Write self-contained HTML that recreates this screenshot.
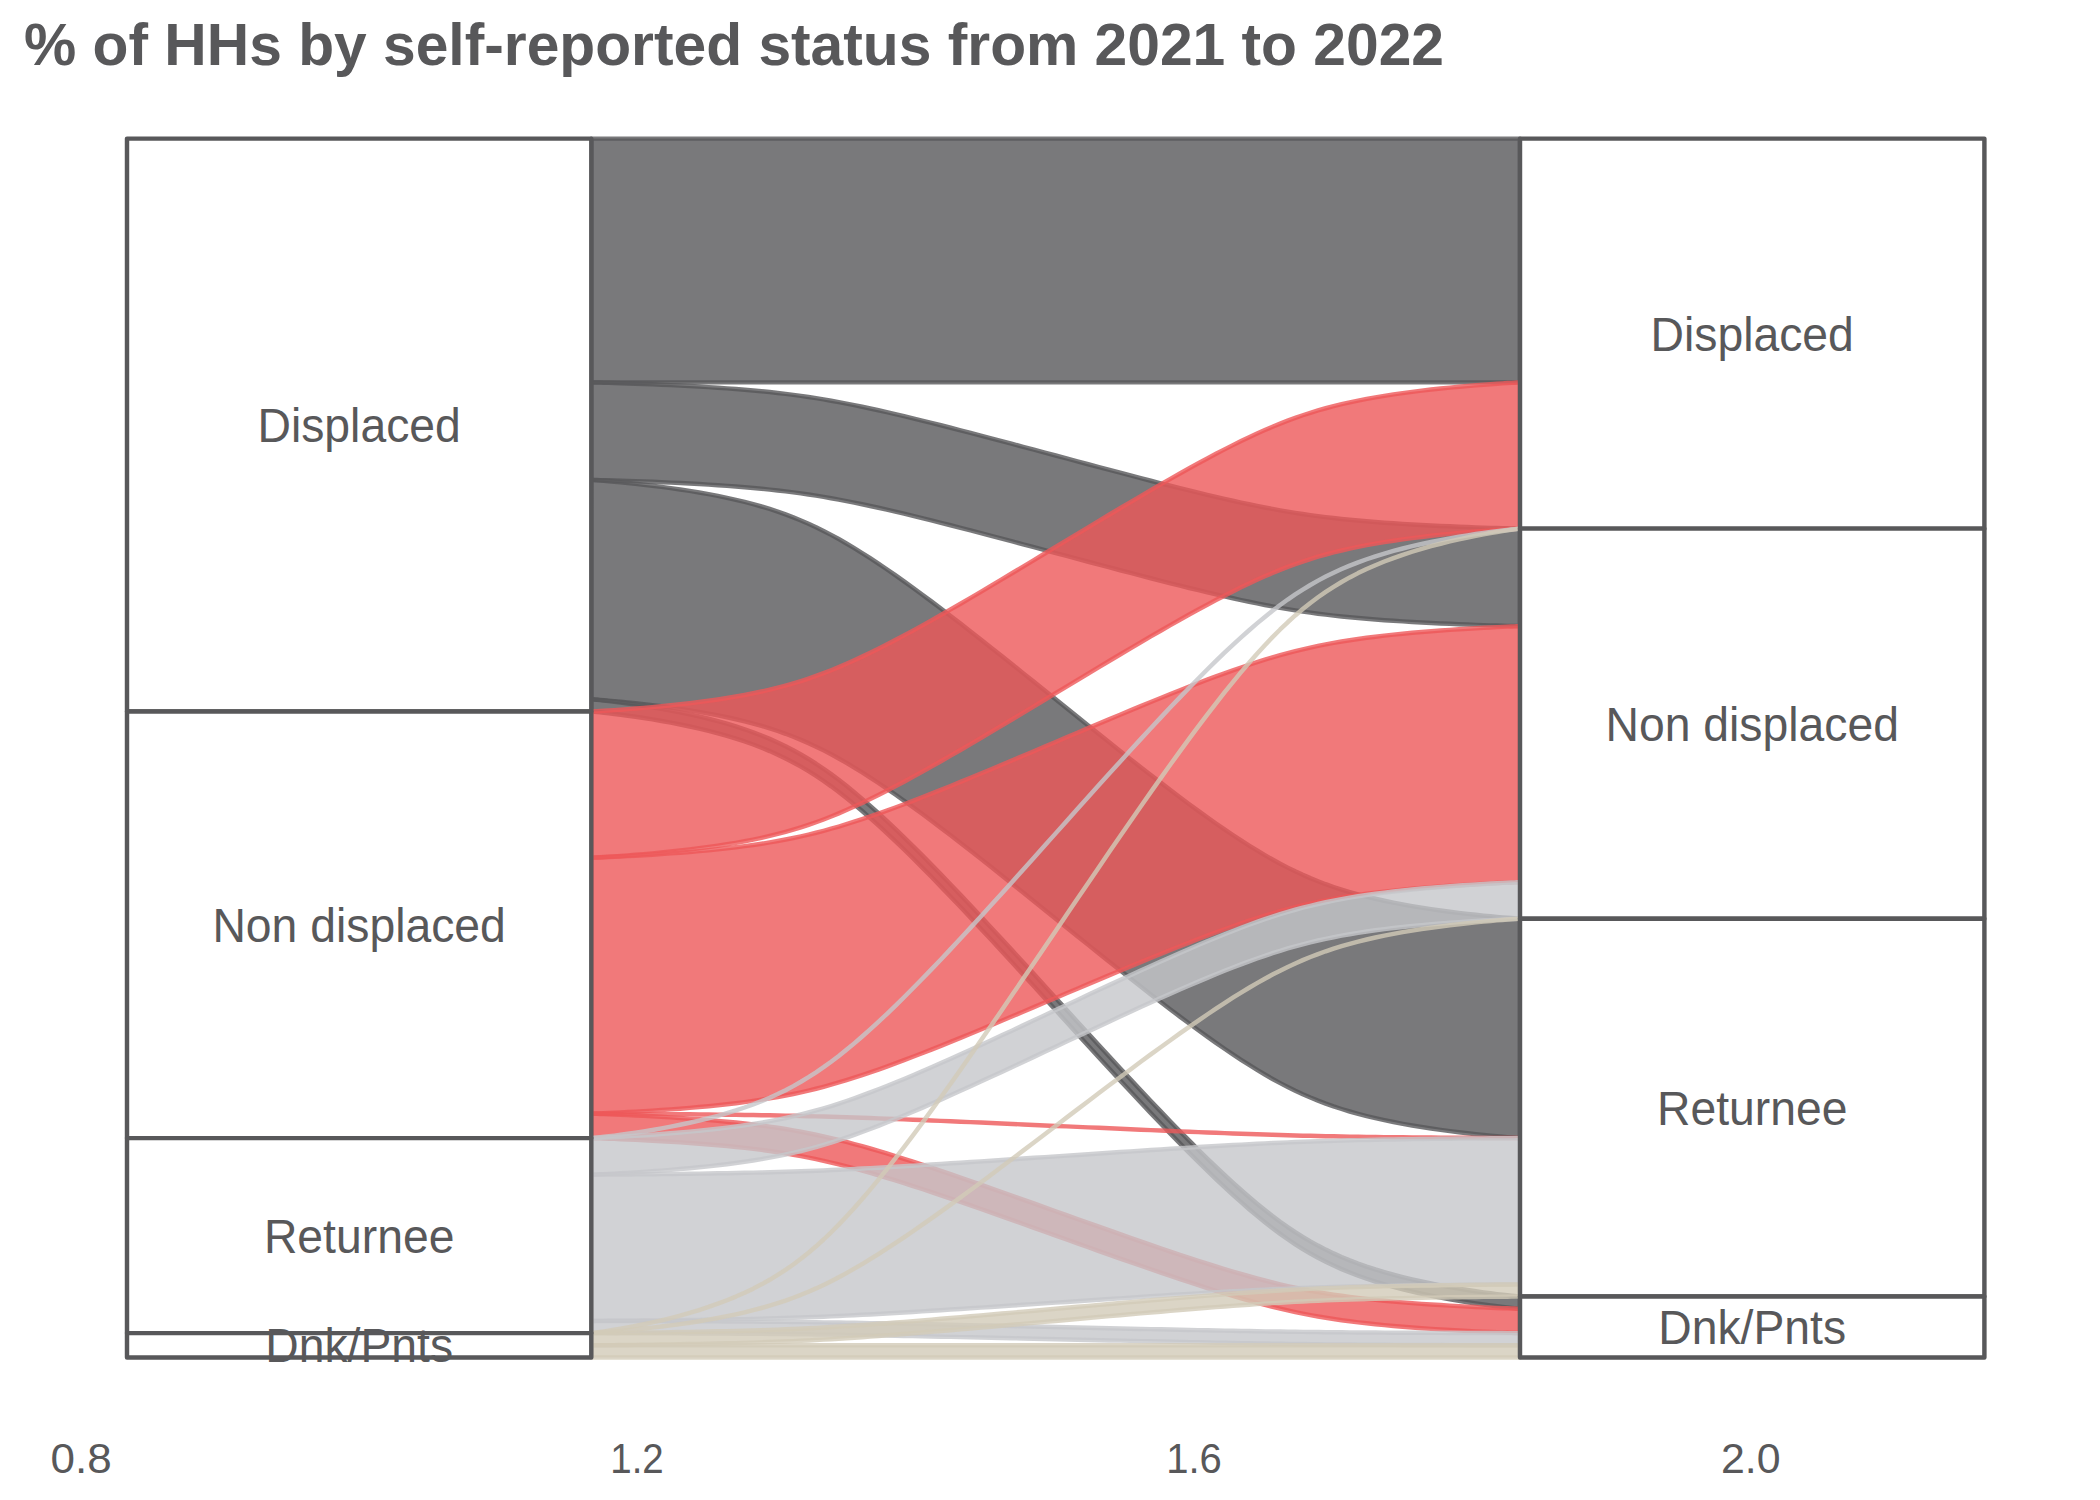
<!DOCTYPE html>
<html><head><meta charset="utf-8"><title>Alluvial</title>
<style>html,body{margin:0;padding:0;background:#fff;width:2100px;height:1500px;overflow:hidden}</style>
</head><body>
<svg width="2100" height="1500" viewBox="0 0 2100 1500" style="display:block">
<rect width="2100" height="1500" fill="#fff"/>
<text x="24" y="65" font-family="Liberation Sans, sans-serif" font-weight="bold" font-size="60" fill="#58585A" textLength="1420" lengthAdjust="spacingAndGlyphs">% of HHs by self-reported status from 2021 to 2022</text>
<g>
<path d="M591.3 138.6 L591.33 138.6 L591.54 138.6 L592.09 138.6 L593.11 138.6 L594.73 138.6 L597.05 138.6 L600.14 138.6 L604.04 138.6 L608.77 138.6 L614.33 138.6 L620.67 138.6 L627.73 138.6 L635.44 138.6 L643.69 138.6 L652.4 138.6 L661.45 138.6 L670.74 138.6 L680.17 138.6 L689.67 138.6 L699.15 138.6 L708.56 138.6 L717.84 138.6 L726.96 138.6 L735.9 138.6 L744.65 138.6 L753.19 138.6 L761.54 138.6 L769.71 138.6 L777.71 138.6 L785.56 138.6 L793.29 138.6 L800.93 138.6 L808.51 138.6 L816.05 138.6 L823.58 138.6 L831.14 138.6 L838.76 138.6 L846.45 138.6 L854.25 138.6 L862.17 138.6 L870.22 138.6 L878.42 138.6 L886.78 138.6 L895.31 138.6 L904.04 138.6 L912.95 138.6 L922.07 138.6 L931.39 138.6 L940.9 138.6 L950.61 138.6 L960.51 138.6 L970.58 138.6 L980.82 138.6 L991.21 138.6 L1001.74 138.6 L1012.38 138.6 L1023.11 138.6 L1033.92 138.6 L1044.77 138.6 L1055.65 138.6 L1066.53 138.6 L1077.38 138.6 L1088.19 138.6 L1098.92 138.6 L1109.56 138.6 L1120.09 138.6 L1130.48 138.6 L1140.72 138.6 L1150.79 138.6 L1160.69 138.6 L1170.4 138.6 L1179.91 138.6 L1189.23 138.6 L1198.35 138.6 L1207.26 138.6 L1215.99 138.6 L1224.52 138.6 L1232.88 138.6 L1241.08 138.6 L1249.13 138.6 L1257.05 138.6 L1264.85 138.6 L1272.54 138.6 L1280.16 138.6 L1287.72 138.6 L1295.25 138.6 L1302.79 138.6 L1310.37 138.6 L1318.01 138.6 L1325.74 138.6 L1333.59 138.6 L1341.59 138.6 L1349.76 138.6 L1358.11 138.6 L1366.65 138.6 L1375.4 138.6 L1384.34 138.6 L1393.46 138.6 L1402.74 138.6 L1412.15 138.6 L1421.63 138.6 L1431.13 138.6 L1440.56 138.6 L1449.85 138.6 L1458.9 138.6 L1467.61 138.6 L1475.86 138.6 L1483.57 138.6 L1490.63 138.6 L1496.97 138.6 L1502.53 138.6 L1507.26 138.6 L1511.16 138.6 L1514.25 138.6 L1516.57 138.6 L1518.19 138.6 L1519.21 138.6 L1519.76 138.6 L1519.97 138.6 L1520 138.6 L1520 382.38 L1519.97 382.38 L1519.76 382.38 L1519.21 382.38 L1518.19 382.38 L1516.57 382.38 L1514.25 382.38 L1511.16 382.38 L1507.26 382.38 L1502.53 382.38 L1496.97 382.38 L1490.63 382.38 L1483.57 382.38 L1475.86 382.38 L1467.61 382.38 L1458.9 382.38 L1449.85 382.38 L1440.56 382.38 L1431.13 382.38 L1421.63 382.38 L1412.15 382.38 L1402.74 382.38 L1393.46 382.38 L1384.34 382.38 L1375.4 382.38 L1366.65 382.38 L1358.11 382.38 L1349.76 382.38 L1341.59 382.38 L1333.59 382.38 L1325.74 382.38 L1318.01 382.38 L1310.37 382.38 L1302.79 382.38 L1295.25 382.38 L1287.72 382.38 L1280.16 382.38 L1272.54 382.38 L1264.85 382.38 L1257.05 382.38 L1249.13 382.38 L1241.08 382.38 L1232.88 382.38 L1224.52 382.38 L1215.99 382.38 L1207.26 382.38 L1198.35 382.38 L1189.23 382.38 L1179.91 382.38 L1170.4 382.38 L1160.69 382.38 L1150.79 382.38 L1140.72 382.38 L1130.48 382.38 L1120.09 382.38 L1109.56 382.38 L1098.92 382.38 L1088.19 382.38 L1077.38 382.38 L1066.53 382.38 L1055.65 382.38 L1044.77 382.38 L1033.92 382.38 L1023.11 382.38 L1012.38 382.38 L1001.74 382.38 L991.21 382.38 L980.82 382.38 L970.58 382.38 L960.51 382.38 L950.61 382.38 L940.9 382.38 L931.39 382.38 L922.07 382.38 L912.95 382.38 L904.04 382.38 L895.31 382.38 L886.78 382.38 L878.42 382.38 L870.22 382.38 L862.17 382.38 L854.25 382.38 L846.45 382.38 L838.76 382.38 L831.14 382.38 L823.58 382.38 L816.05 382.38 L808.51 382.38 L800.93 382.38 L793.29 382.38 L785.56 382.38 L777.71 382.38 L769.71 382.38 L761.54 382.38 L753.19 382.38 L744.65 382.38 L735.9 382.38 L726.96 382.38 L717.84 382.38 L708.56 382.38 L699.15 382.38 L689.67 382.38 L680.17 382.38 L670.74 382.38 L661.45 382.38 L652.4 382.38 L643.69 382.38 L635.44 382.38 L627.73 382.38 L620.67 382.38 L614.33 382.38 L608.77 382.38 L604.04 382.38 L600.14 382.38 L597.05 382.38 L594.73 382.38 L593.11 382.38 L592.09 382.38 L591.54 382.38 L591.33 382.38 L591.3 382.38Z" fill="#58585A" fill-opacity="0.8" stroke="#58585A" stroke-opacity="0.8" stroke-width="4.44" stroke-linejoin="round"/>
<path d="M591.3 382.38 L591.33 382.38 L591.54 382.38 L592.09 382.4 L593.11 382.42 L594.73 382.45 L597.05 382.51 L600.14 382.59 L604.04 382.69 L608.77 382.82 L614.33 382.98 L620.67 383.18 L627.73 383.41 L635.44 383.68 L643.69 383.99 L652.4 384.33 L661.45 384.71 L670.74 385.12 L680.17 385.57 L689.67 386.06 L699.15 386.58 L708.56 387.14 L717.84 387.73 L726.96 388.36 L735.9 389.02 L744.65 389.72 L753.19 390.47 L761.54 391.25 L769.71 392.08 L777.71 392.95 L785.56 393.88 L793.29 394.86 L800.93 395.9 L808.51 397 L816.05 398.17 L823.58 399.4 L831.14 400.71 L838.76 402.1 L846.45 403.57 L854.25 405.12 L862.17 406.76 L870.22 408.47 L878.42 410.28 L886.78 412.16 L895.31 414.13 L904.04 416.19 L912.95 418.33 L922.07 420.56 L931.39 422.87 L940.9 425.26 L950.61 427.74 L960.51 430.28 L970.58 432.89 L980.82 435.57 L991.21 438.31 L1001.74 441.1 L1012.38 443.93 L1023.11 446.79 L1033.92 449.68 L1044.77 452.59 L1055.65 455.51 L1066.53 458.43 L1077.38 461.34 L1088.19 464.24 L1098.92 467.1 L1109.56 469.93 L1120.09 472.72 L1130.48 475.46 L1140.72 478.13 L1150.79 480.75 L1160.69 483.29 L1170.4 485.76 L1179.91 488.16 L1189.23 490.47 L1198.35 492.7 L1207.26 494.84 L1215.99 496.9 L1224.52 498.87 L1232.88 500.75 L1241.08 502.55 L1249.13 504.27 L1257.05 505.9 L1264.85 507.46 L1272.54 508.93 L1280.16 510.32 L1287.72 511.63 L1295.25 512.86 L1302.79 514.03 L1310.37 515.13 L1318.01 516.17 L1325.74 517.15 L1333.59 518.07 L1341.59 518.95 L1349.76 519.78 L1358.11 520.56 L1366.65 521.3 L1375.4 522.01 L1384.34 522.67 L1393.46 523.3 L1402.74 523.89 L1412.15 524.45 L1421.63 524.97 L1431.13 525.46 L1440.56 525.91 L1449.85 526.32 L1458.9 526.7 L1467.61 527.04 L1475.86 527.35 L1483.57 527.62 L1490.63 527.85 L1496.97 528.04 L1502.53 528.21 L1507.26 528.34 L1511.16 528.44 L1514.25 528.52 L1516.57 528.57 L1518.19 528.61 L1519.21 528.63 L1519.76 528.64 L1519.97 528.65 L1520 528.65 L1520 626.16 L1519.97 626.16 L1519.76 626.16 L1519.21 626.14 L1518.19 626.12 L1516.57 626.09 L1514.25 626.03 L1511.16 625.95 L1507.26 625.85 L1502.53 625.72 L1496.97 625.56 L1490.63 625.36 L1483.57 625.13 L1475.86 624.86 L1467.61 624.55 L1458.9 624.21 L1449.85 623.83 L1440.56 623.42 L1431.13 622.97 L1421.63 622.48 L1412.15 621.96 L1402.74 621.4 L1393.46 620.81 L1384.34 620.18 L1375.4 619.52 L1366.65 618.82 L1358.11 618.07 L1349.76 617.29 L1341.59 616.46 L1333.59 615.59 L1325.74 614.66 L1318.01 613.68 L1310.37 612.64 L1302.79 611.54 L1295.25 610.37 L1287.72 609.14 L1280.16 607.83 L1272.54 606.44 L1264.85 604.97 L1257.05 603.42 L1249.13 601.78 L1241.08 600.07 L1232.88 598.26 L1224.52 596.38 L1215.99 594.41 L1207.26 592.35 L1198.35 590.21 L1189.23 587.98 L1179.91 585.67 L1170.4 583.28 L1160.69 580.8 L1150.79 578.26 L1140.72 575.65 L1130.48 572.97 L1120.09 570.23 L1109.56 567.44 L1098.92 564.61 L1088.19 561.75 L1077.38 558.86 L1066.53 555.95 L1055.65 553.03 L1044.77 550.11 L1033.92 547.2 L1023.11 544.3 L1012.38 541.44 L1001.74 538.61 L991.21 535.82 L980.82 533.08 L970.58 530.41 L960.51 527.79 L950.61 525.25 L940.9 522.78 L931.39 520.38 L922.07 518.07 L912.95 515.84 L904.04 513.7 L895.31 511.64 L886.78 509.67 L878.42 507.79 L870.22 505.99 L862.17 504.27 L854.25 502.64 L846.45 501.08 L838.76 499.61 L831.14 498.22 L823.58 496.91 L816.05 495.68 L808.51 494.51 L800.93 493.41 L793.29 492.37 L785.56 491.39 L777.71 490.47 L769.71 489.59 L761.54 488.76 L753.19 487.98 L744.65 487.24 L735.9 486.53 L726.96 485.87 L717.84 485.24 L708.56 484.65 L699.15 484.09 L689.67 483.57 L680.17 483.08 L670.74 482.63 L661.45 482.22 L652.4 481.84 L643.69 481.5 L635.44 481.19 L627.73 480.92 L620.67 480.69 L614.33 480.5 L608.77 480.33 L604.04 480.2 L600.14 480.1 L597.05 480.02 L594.73 479.97 L593.11 479.93 L592.09 479.91 L591.54 479.9 L591.33 479.89 L591.3 479.89Z" fill="#58585A" fill-opacity="0.8" stroke="#58585A" stroke-opacity="0.8" stroke-width="4.44" stroke-linejoin="round"/>
<path d="M591.3 479.89 L591.33 479.89 L591.54 479.91 L592.09 479.94 L593.11 480.01 L594.73 480.12 L597.05 480.28 L600.14 480.51 L604.04 480.82 L608.77 481.22 L614.33 481.7 L620.67 482.29 L627.73 482.99 L635.44 483.79 L643.69 484.71 L652.4 485.73 L661.45 486.87 L670.74 488.12 L680.17 489.47 L689.67 490.93 L699.15 492.49 L708.56 494.16 L717.84 495.94 L726.96 497.82 L735.9 499.82 L744.65 501.92 L753.19 504.15 L761.54 506.5 L769.71 508.99 L777.71 511.61 L785.56 514.39 L793.29 517.33 L800.93 520.45 L808.51 523.75 L816.05 527.25 L823.58 530.96 L831.14 534.89 L838.76 539.06 L846.45 543.46 L854.25 548.12 L862.17 553.03 L870.22 558.18 L878.42 563.58 L886.78 569.23 L895.31 575.15 L904.04 581.32 L912.95 587.75 L922.07 594.43 L931.39 601.37 L940.9 608.55 L950.61 615.96 L960.51 623.59 L970.58 631.44 L980.82 639.47 L991.21 647.68 L1001.74 656.04 L1012.38 664.53 L1023.11 673.12 L1033.92 681.8 L1044.77 690.53 L1055.65 699.29 L1066.53 708.05 L1077.38 716.79 L1088.19 725.46 L1098.92 734.06 L1109.56 742.55 L1120.09 750.91 L1130.48 759.12 L1140.72 767.15 L1150.79 775 L1160.69 782.63 L1170.4 790.04 L1179.91 797.22 L1189.23 804.16 L1198.35 810.84 L1207.26 817.27 L1215.99 823.44 L1224.52 829.36 L1232.88 835.01 L1241.08 840.41 L1249.13 845.56 L1257.05 850.47 L1264.85 855.12 L1272.54 859.53 L1280.16 863.7 L1287.72 867.63 L1295.25 871.34 L1302.79 874.84 L1310.37 878.14 L1318.01 881.25 L1325.74 884.2 L1333.59 886.97 L1341.59 889.6 L1349.76 892.09 L1358.11 894.44 L1366.65 896.66 L1375.4 898.77 L1384.34 900.77 L1393.46 902.65 L1402.74 904.42 L1412.15 906.1 L1421.63 907.66 L1431.13 909.12 L1440.56 910.47 L1449.85 911.72 L1458.9 912.85 L1467.61 913.88 L1475.86 914.79 L1483.57 915.6 L1490.63 916.29 L1496.97 916.88 L1502.53 917.37 L1507.26 917.77 L1511.16 918.08 L1514.25 918.31 L1516.57 918.47 L1518.19 918.58 L1519.21 918.65 L1519.76 918.68 L1519.97 918.69 L1520 918.7 L1520 1138.1 L1519.97 1138.1 L1519.76 1138.08 L1519.21 1138.05 L1518.19 1137.98 L1516.57 1137.87 L1514.25 1137.71 L1511.16 1137.48 L1507.26 1137.17 L1502.53 1136.77 L1496.97 1136.29 L1490.63 1135.7 L1483.57 1135 L1475.86 1134.2 L1467.61 1133.28 L1458.9 1132.26 L1449.85 1131.12 L1440.56 1129.87 L1431.13 1128.52 L1421.63 1127.06 L1412.15 1125.5 L1402.74 1123.83 L1393.46 1122.05 L1384.34 1120.17 L1375.4 1118.17 L1366.65 1116.07 L1358.11 1113.84 L1349.76 1111.49 L1341.59 1109 L1333.59 1106.38 L1325.74 1103.6 L1318.01 1100.66 L1310.37 1097.54 L1302.79 1094.24 L1295.25 1090.74 L1287.72 1087.03 L1280.16 1083.1 L1272.54 1078.93 L1264.85 1074.53 L1257.05 1069.87 L1249.13 1064.96 L1241.08 1059.81 L1232.88 1054.41 L1224.52 1048.76 L1215.99 1042.84 L1207.26 1036.67 L1198.35 1030.24 L1189.23 1023.56 L1179.91 1016.62 L1170.4 1009.44 L1160.69 1002.03 L1150.79 994.4 L1140.72 986.55 L1130.48 978.52 L1120.09 970.31 L1109.56 961.95 L1098.92 953.46 L1088.19 944.87 L1077.38 936.19 L1066.53 927.46 L1055.65 918.7 L1044.77 909.94 L1033.92 901.2 L1023.11 892.53 L1012.38 883.93 L1001.74 875.44 L991.21 867.08 L980.82 858.87 L970.58 850.84 L960.51 842.99 L950.61 835.36 L940.9 827.95 L931.39 820.77 L922.07 813.83 L912.95 807.15 L904.04 800.72 L895.31 794.55 L886.78 788.63 L878.42 782.98 L870.22 777.58 L862.17 772.43 L854.25 767.52 L846.45 762.87 L838.76 758.46 L831.14 754.29 L823.58 750.36 L816.05 746.65 L808.51 743.15 L800.93 739.85 L793.29 736.74 L785.56 733.79 L777.71 731.02 L769.71 728.39 L761.54 725.9 L753.19 723.55 L744.65 721.33 L735.9 719.22 L726.96 717.22 L717.84 715.34 L708.56 713.57 L699.15 711.89 L689.67 710.33 L680.17 708.87 L670.74 707.52 L661.45 706.27 L652.4 705.14 L643.69 704.11 L635.44 703.2 L627.73 702.39 L620.67 701.7 L614.33 701.11 L608.77 700.62 L604.04 700.22 L600.14 699.91 L597.05 699.68 L594.73 699.52 L593.11 699.41 L592.09 699.34 L591.54 699.31 L591.33 699.3 L591.3 699.29Z" fill="#58585A" fill-opacity="0.8" stroke="#58585A" stroke-opacity="0.8" stroke-width="4.44" stroke-linejoin="round"/>
<path d="M591.3 699.29 L591.33 699.3 L591.54 699.31 L592.09 699.36 L593.11 699.45 L594.73 699.6 L597.05 699.82 L600.14 700.14 L604.04 700.56 L608.77 701.1 L614.33 701.76 L620.67 702.56 L627.73 703.51 L635.44 704.6 L643.69 705.85 L652.4 707.25 L661.45 708.79 L670.74 710.49 L680.17 712.33 L689.67 714.31 L699.15 716.45 L708.56 718.72 L717.84 721.14 L726.96 723.7 L735.9 726.41 L744.65 729.28 L753.19 732.31 L761.54 735.51 L769.71 738.9 L777.71 742.47 L785.56 746.25 L793.29 750.26 L800.93 754.5 L808.51 758.99 L816.05 763.75 L823.58 768.8 L831.14 774.15 L838.76 779.82 L846.45 785.82 L854.25 792.16 L862.17 798.84 L870.22 805.85 L878.42 813.2 L886.78 820.9 L895.31 828.94 L904.04 837.34 L912.95 846.1 L922.07 855.19 L931.39 864.63 L940.9 874.41 L950.61 884.49 L960.51 894.89 L970.58 905.56 L980.82 916.5 L991.21 927.67 L1001.74 939.05 L1012.38 950.6 L1023.11 962.31 L1033.92 974.12 L1044.77 986 L1055.65 997.92 L1066.53 1009.85 L1077.38 1021.73 L1088.19 1033.54 L1098.92 1045.24 L1109.56 1056.8 L1120.09 1068.18 L1130.48 1079.35 L1140.72 1090.29 L1150.79 1100.96 L1160.69 1111.35 L1170.4 1121.44 L1179.91 1131.21 L1189.23 1140.65 L1198.35 1149.75 L1207.26 1158.5 L1215.99 1166.9 L1224.52 1174.95 L1232.88 1182.65 L1241.08 1190 L1249.13 1197.01 L1257.05 1203.69 L1264.85 1210.03 L1272.54 1216.03 L1280.16 1221.7 L1287.72 1227.05 L1295.25 1232.1 L1302.79 1236.86 L1310.37 1241.35 L1318.01 1245.59 L1325.74 1249.6 L1333.59 1253.38 L1341.59 1256.95 L1349.76 1260.34 L1358.11 1263.54 L1366.65 1266.57 L1375.4 1269.44 L1384.34 1272.15 L1393.46 1274.71 L1402.74 1277.13 L1412.15 1279.4 L1421.63 1281.53 L1431.13 1283.52 L1440.56 1285.36 L1449.85 1287.06 L1458.9 1288.6 L1467.61 1290 L1475.86 1291.24 L1483.57 1292.34 L1490.63 1293.29 L1496.97 1294.09 L1502.53 1294.75 L1507.26 1295.29 L1511.16 1295.71 L1514.25 1296.03 L1516.57 1296.25 L1518.19 1296.4 L1519.21 1296.49 L1519.76 1296.54 L1519.97 1296.55 L1520 1296.56 L1520 1308.74 L1519.97 1308.74 L1519.76 1308.73 L1519.21 1308.68 L1518.19 1308.59 L1516.57 1308.44 L1514.25 1308.22 L1511.16 1307.9 L1507.26 1307.48 L1502.53 1306.94 L1496.97 1306.28 L1490.63 1305.47 L1483.57 1304.53 L1475.86 1303.43 L1467.61 1302.19 L1458.9 1300.79 L1449.85 1299.25 L1440.56 1297.55 L1431.13 1295.71 L1421.63 1293.72 L1412.15 1291.59 L1402.74 1289.32 L1393.46 1286.9 L1384.34 1284.34 L1375.4 1281.63 L1366.65 1278.76 L1358.11 1275.73 L1349.76 1272.52 L1341.59 1269.14 L1333.59 1265.57 L1325.74 1261.78 L1318.01 1257.78 L1310.37 1253.54 L1302.79 1249.05 L1295.25 1244.29 L1287.72 1239.24 L1280.16 1233.89 L1272.54 1228.21 L1264.85 1222.21 L1257.05 1215.88 L1249.13 1209.2 L1241.08 1202.19 L1232.88 1194.84 L1224.52 1187.14 L1215.99 1179.09 L1207.26 1170.69 L1198.35 1161.94 L1189.23 1152.84 L1179.91 1143.4 L1170.4 1133.63 L1160.69 1123.54 L1150.79 1113.15 L1140.72 1102.48 L1130.48 1091.54 L1120.09 1080.37 L1109.56 1068.99 L1098.92 1057.43 L1088.19 1045.73 L1077.38 1033.92 L1066.53 1022.04 L1055.65 1010.11 L1044.77 998.19 L1033.92 986.31 L1023.11 974.49 L1012.38 962.79 L1001.74 951.24 L991.21 939.86 L980.82 928.69 L970.58 917.75 L960.51 907.08 L950.61 896.68 L940.9 886.59 L931.39 876.82 L922.07 867.38 L912.95 858.29 L904.04 849.53 L895.31 841.13 L886.78 833.09 L878.42 825.39 L870.22 818.04 L862.17 811.03 L854.25 804.35 L846.45 798.01 L838.76 792.01 L831.14 786.34 L823.58 780.99 L816.05 775.94 L808.51 771.18 L800.93 766.68 L793.29 762.45 L785.56 758.44 L777.71 754.66 L769.71 751.09 L761.54 747.7 L753.19 744.5 L744.65 741.47 L735.9 738.6 L726.96 735.89 L717.84 733.32 L708.56 730.91 L699.15 728.63 L689.67 726.5 L680.17 724.52 L670.74 722.68 L661.45 720.98 L652.4 719.43 L643.69 718.04 L635.44 716.79 L627.73 715.7 L620.67 714.75 L614.33 713.95 L608.77 713.28 L604.04 712.75 L600.14 712.33 L597.05 712.01 L594.73 711.79 L593.11 711.64 L592.09 711.55 L591.54 711.5 L591.33 711.49 L591.3 711.48Z" fill="#58585A" fill-opacity="0.8" stroke="#58585A" stroke-opacity="0.8" stroke-width="4.44" stroke-linejoin="round"/>
<path d="M591.3 711.48 L591.33 711.48 L591.54 711.47 L592.09 711.45 L593.11 711.4 L594.73 711.32 L597.05 711.19 L600.14 711.02 L604.04 710.79 L608.77 710.49 L614.33 710.12 L620.67 709.68 L627.73 709.16 L635.44 708.56 L643.69 707.87 L652.4 707.1 L661.45 706.25 L670.74 705.32 L680.17 704.3 L689.67 703.21 L699.15 702.03 L708.56 700.78 L717.84 699.45 L726.96 698.04 L735.9 696.54 L744.65 694.96 L753.19 693.29 L761.54 691.53 L769.71 689.66 L777.71 687.69 L785.56 685.61 L793.29 683.4 L800.93 681.07 L808.51 678.59 L816.05 675.97 L823.58 673.18 L831.14 670.23 L838.76 667.11 L846.45 663.8 L854.25 660.31 L862.17 656.63 L870.22 652.77 L878.42 648.72 L886.78 644.48 L895.31 640.04 L904.04 635.41 L912.95 630.59 L922.07 625.58 L931.39 620.38 L940.9 614.99 L950.61 609.43 L960.51 603.71 L970.58 597.83 L980.82 591.8 L991.21 585.64 L1001.74 579.37 L1012.38 573.01 L1023.11 566.56 L1033.92 560.05 L1044.77 553.5 L1055.65 546.93 L1066.53 540.36 L1077.38 533.81 L1088.19 527.3 L1098.92 520.86 L1109.56 514.49 L1120.09 508.22 L1130.48 502.06 L1140.72 496.04 L1150.79 490.16 L1160.69 484.43 L1170.4 478.87 L1179.91 473.49 L1189.23 468.28 L1198.35 463.27 L1207.26 458.45 L1215.99 453.82 L1224.52 449.39 L1232.88 445.14 L1241.08 441.09 L1249.13 437.23 L1257.05 433.55 L1264.85 430.06 L1272.54 426.75 L1280.16 423.63 L1287.72 420.68 L1295.25 417.9 L1302.79 415.27 L1310.37 412.8 L1318.01 410.46 L1325.74 408.26 L1333.59 406.17 L1341.59 404.2 L1349.76 402.34 L1358.11 400.57 L1366.65 398.9 L1375.4 397.32 L1384.34 395.83 L1393.46 394.42 L1402.74 393.08 L1412.15 391.83 L1421.63 390.66 L1431.13 389.56 L1440.56 388.55 L1449.85 387.61 L1458.9 386.76 L1467.61 385.99 L1475.86 385.31 L1483.57 384.7 L1490.63 384.18 L1496.97 383.74 L1502.53 383.37 L1507.26 383.08 L1511.16 382.85 L1514.25 382.67 L1516.57 382.55 L1518.19 382.47 L1519.21 382.42 L1519.76 382.39 L1519.97 382.38 L1520 382.38 L1520 528.65 L1519.97 528.65 L1519.76 528.66 L1519.21 528.68 L1518.19 528.73 L1516.57 528.82 L1514.25 528.94 L1511.16 529.11 L1507.26 529.34 L1502.53 529.64 L1496.97 530.01 L1490.63 530.45 L1483.57 530.97 L1475.86 531.57 L1467.61 532.26 L1458.9 533.03 L1449.85 533.88 L1440.56 534.82 L1431.13 535.83 L1421.63 536.92 L1412.15 538.1 L1402.74 539.35 L1393.46 540.68 L1384.34 542.1 L1375.4 543.59 L1366.65 545.17 L1358.11 546.84 L1349.76 548.61 L1341.59 550.47 L1333.59 552.44 L1325.74 554.52 L1318.01 556.73 L1310.37 559.06 L1302.79 561.54 L1295.25 564.16 L1287.72 566.95 L1280.16 569.9 L1272.54 573.02 L1264.85 576.33 L1257.05 579.82 L1249.13 583.5 L1241.08 587.36 L1232.88 591.41 L1224.52 595.65 L1215.99 600.09 L1207.26 604.72 L1198.35 609.54 L1189.23 614.55 L1179.91 619.75 L1170.4 625.14 L1160.69 630.7 L1150.79 636.42 L1140.72 642.31 L1130.48 648.33 L1120.09 654.49 L1109.56 660.76 L1098.92 667.12 L1088.19 673.57 L1077.38 680.08 L1066.53 686.63 L1055.65 693.2 L1044.77 699.77 L1033.92 706.32 L1023.11 712.83 L1012.38 719.27 L1001.74 725.64 L991.21 731.91 L980.82 738.07 L970.58 744.09 L960.51 749.98 L950.61 755.7 L940.9 761.26 L931.39 766.65 L922.07 771.85 L912.95 776.86 L904.04 781.68 L895.31 786.31 L886.78 790.75 L878.42 794.99 L870.22 799.04 L862.17 802.9 L854.25 806.58 L846.45 810.07 L838.76 813.38 L831.14 816.5 L823.58 819.45 L816.05 822.23 L808.51 824.86 L800.93 827.33 L793.29 829.67 L785.56 831.88 L777.71 833.96 L769.71 835.93 L761.54 837.79 L753.19 839.56 L744.65 841.23 L735.9 842.81 L726.96 844.3 L717.84 845.72 L708.56 847.05 L699.15 848.3 L689.67 849.47 L680.17 850.57 L670.74 851.58 L661.45 852.52 L652.4 853.37 L643.69 854.14 L635.44 854.83 L627.73 855.43 L620.67 855.95 L614.33 856.39 L608.77 856.76 L604.04 857.05 L600.14 857.29 L597.05 857.46 L594.73 857.58 L593.11 857.67 L592.09 857.72 L591.54 857.74 L591.33 857.75 L591.3 857.75Z" fill="#EE5859" fill-opacity="0.8" stroke="#EE5859" stroke-opacity="0.8" stroke-width="4.44" stroke-linejoin="round"/>
<path d="M591.3 857.75 L591.33 857.75 L591.54 857.74 L592.09 857.73 L593.11 857.69 L594.73 857.63 L597.05 857.55 L600.14 857.42 L604.04 857.26 L608.77 857.05 L614.33 856.79 L620.67 856.48 L627.73 856.12 L635.44 855.69 L643.69 855.21 L652.4 854.67 L661.45 854.07 L670.74 853.41 L680.17 852.7 L689.67 851.93 L699.15 851.1 L708.56 850.22 L717.84 849.28 L726.96 848.29 L735.9 847.24 L744.65 846.12 L753.19 844.95 L761.54 843.71 L769.71 842.39 L777.71 841.01 L785.56 839.54 L793.29 837.99 L800.93 836.35 L808.51 834.6 L816.05 832.76 L823.58 830.8 L831.14 828.72 L838.76 826.53 L846.45 824.2 L854.25 821.74 L862.17 819.15 L870.22 816.43 L878.42 813.58 L886.78 810.6 L895.31 807.48 L904.04 804.22 L912.95 800.83 L922.07 797.3 L931.39 793.64 L940.9 789.85 L950.61 785.94 L960.51 781.91 L970.58 777.77 L980.82 773.53 L991.21 769.2 L1001.74 764.79 L1012.38 760.3 L1023.11 755.77 L1033.92 751.19 L1044.77 746.58 L1055.65 741.96 L1066.53 737.33 L1077.38 732.72 L1088.19 728.14 L1098.92 723.61 L1109.56 719.13 L1120.09 714.71 L1130.48 710.38 L1140.72 706.14 L1150.79 702 L1160.69 697.97 L1170.4 694.06 L1179.91 690.27 L1189.23 686.61 L1198.35 683.08 L1207.26 679.69 L1215.99 676.43 L1224.52 673.31 L1232.88 670.33 L1241.08 667.48 L1249.13 664.76 L1257.05 662.17 L1264.85 659.71 L1272.54 657.39 L1280.16 655.19 L1287.72 653.11 L1295.25 651.15 L1302.79 649.31 L1310.37 647.56 L1318.01 645.92 L1325.74 644.37 L1333.59 642.9 L1341.59 641.52 L1349.76 640.2 L1358.11 638.96 L1366.65 637.79 L1375.4 636.68 L1384.34 635.62 L1393.46 634.63 L1402.74 633.69 L1412.15 632.81 L1421.63 631.98 L1431.13 631.21 L1440.56 630.5 L1449.85 629.84 L1458.9 629.24 L1467.61 628.7 L1475.86 628.22 L1483.57 627.79 L1490.63 627.43 L1496.97 627.12 L1502.53 626.86 L1507.26 626.65 L1511.16 626.49 L1514.25 626.37 L1516.57 626.28 L1518.19 626.22 L1519.21 626.19 L1519.76 626.17 L1519.97 626.16 L1520 626.16 L1520 882.13 L1519.97 882.13 L1519.76 882.14 L1519.21 882.15 L1518.19 882.19 L1516.57 882.25 L1514.25 882.33 L1511.16 882.46 L1507.26 882.62 L1502.53 882.83 L1496.97 883.09 L1490.63 883.4 L1483.57 883.76 L1475.86 884.19 L1467.61 884.67 L1458.9 885.21 L1449.85 885.81 L1440.56 886.47 L1431.13 887.18 L1421.63 887.95 L1412.15 888.78 L1402.74 889.66 L1393.46 890.6 L1384.34 891.59 L1375.4 892.64 L1366.65 893.76 L1358.11 894.93 L1349.76 896.17 L1341.59 897.49 L1333.59 898.87 L1325.74 900.34 L1318.01 901.89 L1310.37 903.53 L1302.79 905.28 L1295.25 907.12 L1287.72 909.08 L1280.16 911.16 L1272.54 913.35 L1264.85 915.68 L1257.05 918.14 L1249.13 920.73 L1241.08 923.45 L1232.88 926.3 L1224.52 929.28 L1215.99 932.4 L1207.26 935.66 L1198.35 939.05 L1189.23 942.58 L1179.91 946.24 L1170.4 950.03 L1160.69 953.94 L1150.79 957.97 L1140.72 962.11 L1130.48 966.35 L1120.09 970.68 L1109.56 975.09 L1098.92 979.58 L1088.19 984.11 L1077.38 988.69 L1066.53 993.3 L1055.65 997.92 L1044.77 1002.55 L1033.92 1007.16 L1023.11 1011.74 L1012.38 1016.27 L1001.74 1020.75 L991.21 1025.17 L980.82 1029.5 L970.58 1033.74 L960.51 1037.88 L950.61 1041.91 L940.9 1045.82 L931.39 1049.61 L922.07 1053.27 L912.95 1056.8 L904.04 1060.19 L895.31 1063.45 L886.78 1066.57 L878.42 1069.55 L870.22 1072.4 L862.17 1075.12 L854.25 1077.71 L846.45 1080.17 L838.76 1082.49 L831.14 1084.69 L823.58 1086.77 L816.05 1088.73 L808.51 1090.57 L800.93 1092.32 L793.29 1093.96 L785.56 1095.51 L777.71 1096.98 L769.71 1098.36 L761.54 1099.68 L753.19 1100.92 L744.65 1102.09 L735.9 1103.2 L726.96 1104.26 L717.84 1105.25 L708.56 1106.19 L699.15 1107.07 L689.67 1107.9 L680.17 1108.67 L670.74 1109.38 L661.45 1110.04 L652.4 1110.64 L643.69 1111.18 L635.44 1111.66 L627.73 1112.09 L620.67 1112.45 L614.33 1112.76 L608.77 1113.02 L604.04 1113.23 L600.14 1113.39 L597.05 1113.51 L594.73 1113.6 L593.11 1113.66 L592.09 1113.69 L591.54 1113.71 L591.33 1113.72 L591.3 1113.72Z" fill="#EE5859" fill-opacity="0.8" stroke="#EE5859" stroke-opacity="0.8" stroke-width="4.44" stroke-linejoin="round"/>
<path d="M591.3 1113.72 L591.33 1113.72 L591.54 1113.72 L592.09 1113.72 L593.11 1113.73 L594.73 1113.73 L597.05 1113.74 L600.14 1113.75 L604.04 1113.77 L608.77 1113.79 L614.33 1113.82 L620.67 1113.85 L627.73 1113.89 L635.44 1113.94 L643.69 1113.99 L652.4 1114.04 L661.45 1114.11 L670.74 1114.18 L680.17 1114.25 L689.67 1114.33 L699.15 1114.42 L708.56 1114.51 L717.84 1114.61 L726.96 1114.72 L735.9 1114.83 L744.65 1114.94 L753.19 1115.07 L761.54 1115.2 L769.71 1115.34 L777.71 1115.48 L785.56 1115.64 L793.29 1115.8 L800.93 1115.97 L808.51 1116.16 L816.05 1116.35 L823.58 1116.56 L831.14 1116.78 L838.76 1117.01 L846.45 1117.25 L854.25 1117.51 L862.17 1117.78 L870.22 1118.07 L878.42 1118.37 L886.78 1118.68 L895.31 1119.01 L904.04 1119.35 L912.95 1119.71 L922.07 1120.08 L931.39 1120.47 L940.9 1120.87 L950.61 1121.28 L960.51 1121.7 L970.58 1122.14 L980.82 1122.59 L991.21 1123.04 L1001.74 1123.51 L1012.38 1123.98 L1023.11 1124.46 L1033.92 1124.94 L1044.77 1125.42 L1055.65 1125.91 L1066.53 1126.4 L1077.38 1126.88 L1088.19 1127.36 L1098.92 1127.84 L1109.56 1128.31 L1120.09 1128.78 L1130.48 1129.23 L1140.72 1129.68 L1150.79 1130.11 L1160.69 1130.54 L1170.4 1130.95 L1179.91 1131.35 L1189.23 1131.73 L1198.35 1132.11 L1207.26 1132.46 L1215.99 1132.81 L1224.52 1133.13 L1232.88 1133.45 L1241.08 1133.75 L1249.13 1134.04 L1257.05 1134.31 L1264.85 1134.57 L1272.54 1134.81 L1280.16 1135.04 L1287.72 1135.26 L1295.25 1135.47 L1302.79 1135.66 L1310.37 1135.84 L1318.01 1136.02 L1325.74 1136.18 L1333.59 1136.34 L1341.59 1136.48 L1349.76 1136.62 L1358.11 1136.75 L1366.65 1136.87 L1375.4 1136.99 L1384.34 1137.1 L1393.46 1137.21 L1402.74 1137.31 L1412.15 1137.4 L1421.63 1137.48 L1431.13 1137.57 L1440.56 1137.64 L1449.85 1137.71 L1458.9 1137.77 L1467.61 1137.83 L1475.86 1137.88 L1483.57 1137.93 L1490.63 1137.96 L1496.97 1138 L1502.53 1138.02 L1507.26 1138.05 L1511.16 1138.06 L1514.25 1138.08 L1516.57 1138.09 L1518.19 1138.09 L1519.21 1138.1 L1519.76 1138.1 L1519.97 1138.1 L1520 1138.1 L1520 1138.1 L1519.97 1138.1 L1519.76 1138.1 L1519.21 1138.1 L1518.19 1138.09 L1516.57 1138.09 L1514.25 1138.08 L1511.16 1138.06 L1507.26 1138.05 L1502.53 1138.02 L1496.97 1138 L1490.63 1137.96 L1483.57 1137.93 L1475.86 1137.88 L1467.61 1137.83 L1458.9 1137.77 L1449.85 1137.71 L1440.56 1137.64 L1431.13 1137.57 L1421.63 1137.48 L1412.15 1137.4 L1402.74 1137.31 L1393.46 1137.21 L1384.34 1137.1 L1375.4 1136.99 L1366.65 1136.87 L1358.11 1136.75 L1349.76 1136.62 L1341.59 1136.48 L1333.59 1136.34 L1325.74 1136.18 L1318.01 1136.02 L1310.37 1135.84 L1302.79 1135.66 L1295.25 1135.47 L1287.72 1135.26 L1280.16 1135.04 L1272.54 1134.81 L1264.85 1134.57 L1257.05 1134.31 L1249.13 1134.04 L1241.08 1133.75 L1232.88 1133.45 L1224.52 1133.13 L1215.99 1132.81 L1207.26 1132.46 L1198.35 1132.11 L1189.23 1131.73 L1179.91 1131.35 L1170.4 1130.95 L1160.69 1130.54 L1150.79 1130.11 L1140.72 1129.68 L1130.48 1129.23 L1120.09 1128.78 L1109.56 1128.31 L1098.92 1127.84 L1088.19 1127.36 L1077.38 1126.88 L1066.53 1126.4 L1055.65 1125.91 L1044.77 1125.42 L1033.92 1124.94 L1023.11 1124.46 L1012.38 1123.98 L1001.74 1123.51 L991.21 1123.04 L980.82 1122.59 L970.58 1122.14 L960.51 1121.7 L950.61 1121.28 L940.9 1120.87 L931.39 1120.47 L922.07 1120.08 L912.95 1119.71 L904.04 1119.35 L895.31 1119.01 L886.78 1118.68 L878.42 1118.37 L870.22 1118.07 L862.17 1117.78 L854.25 1117.51 L846.45 1117.25 L838.76 1117.01 L831.14 1116.78 L823.58 1116.56 L816.05 1116.35 L808.51 1116.16 L800.93 1115.97 L793.29 1115.8 L785.56 1115.64 L777.71 1115.48 L769.71 1115.34 L761.54 1115.2 L753.19 1115.07 L744.65 1114.94 L735.9 1114.83 L726.96 1114.72 L717.84 1114.61 L708.56 1114.51 L699.15 1114.42 L689.67 1114.33 L680.17 1114.25 L670.74 1114.18 L661.45 1114.11 L652.4 1114.04 L643.69 1113.99 L635.44 1113.94 L627.73 1113.89 L620.67 1113.85 L614.33 1113.82 L608.77 1113.79 L604.04 1113.77 L600.14 1113.75 L597.05 1113.74 L594.73 1113.73 L593.11 1113.73 L592.09 1113.72 L591.54 1113.72 L591.33 1113.72 L591.3 1113.72Z" fill="#EE5859" fill-opacity="0.8" stroke="#EE5859" stroke-opacity="0.8" stroke-width="4.44" stroke-linejoin="round"/>
<path d="M591.3 1113.72 L591.33 1113.72 L591.54 1113.73 L592.09 1113.74 L593.11 1113.77 L594.73 1113.82 L597.05 1113.89 L600.14 1114 L604.04 1114.13 L608.77 1114.31 L614.33 1114.53 L620.67 1114.79 L627.73 1115.1 L635.44 1115.45 L643.69 1115.86 L652.4 1116.32 L661.45 1116.82 L670.74 1117.37 L680.17 1117.98 L689.67 1118.62 L699.15 1119.32 L708.56 1120.06 L717.84 1120.85 L726.96 1121.69 L735.9 1122.58 L744.65 1123.51 L753.19 1124.5 L761.54 1125.55 L769.71 1126.65 L777.71 1127.82 L785.56 1129.05 L793.29 1130.36 L800.93 1131.74 L808.51 1133.21 L816.05 1134.77 L823.58 1136.42 L831.14 1138.16 L838.76 1140.02 L846.45 1141.97 L854.25 1144.04 L862.17 1146.22 L870.22 1148.51 L878.42 1150.91 L886.78 1153.43 L895.31 1156.05 L904.04 1158.8 L912.95 1161.66 L922.07 1164.63 L931.39 1167.71 L940.9 1170.9 L950.61 1174.19 L960.51 1177.59 L970.58 1181.07 L980.82 1184.64 L991.21 1188.29 L1001.74 1192.01 L1012.38 1195.78 L1023.11 1199.6 L1033.92 1203.46 L1044.77 1207.34 L1055.65 1211.23 L1066.53 1215.13 L1077.38 1219.01 L1088.19 1222.86 L1098.92 1226.68 L1109.56 1230.46 L1120.09 1234.17 L1130.48 1237.82 L1140.72 1241.39 L1150.79 1244.88 L1160.69 1248.27 L1170.4 1251.56 L1179.91 1254.76 L1189.23 1257.84 L1198.35 1260.81 L1207.26 1263.67 L1215.99 1266.41 L1224.52 1269.04 L1232.88 1271.55 L1241.08 1273.95 L1249.13 1276.24 L1257.05 1278.42 L1264.85 1280.49 L1272.54 1282.45 L1280.16 1284.3 L1287.72 1286.05 L1295.25 1287.7 L1302.79 1289.25 L1310.37 1290.72 L1318.01 1292.1 L1325.74 1293.41 L1333.59 1294.65 L1341.59 1295.81 L1349.76 1296.92 L1358.11 1297.96 L1366.65 1298.95 L1375.4 1299.89 L1384.34 1300.77 L1393.46 1301.61 L1402.74 1302.4 L1412.15 1303.14 L1421.63 1303.84 L1431.13 1304.49 L1440.56 1305.09 L1449.85 1305.64 L1458.9 1306.15 L1467.61 1306.6 L1475.86 1307.01 L1483.57 1307.37 L1490.63 1307.68 L1496.97 1307.94 L1502.53 1308.16 L1507.26 1308.33 L1511.16 1308.47 L1514.25 1308.57 L1516.57 1308.64 L1518.19 1308.69 L1519.21 1308.72 L1519.76 1308.74 L1519.97 1308.74 L1520 1308.74 L1520 1333.12 L1519.97 1333.12 L1519.76 1333.12 L1519.21 1333.1 L1518.19 1333.07 L1516.57 1333.02 L1514.25 1332.95 L1511.16 1332.85 L1507.26 1332.71 L1502.53 1332.53 L1496.97 1332.32 L1490.63 1332.05 L1483.57 1331.75 L1475.86 1331.39 L1467.61 1330.98 L1458.9 1330.53 L1449.85 1330.02 L1440.56 1329.47 L1431.13 1328.87 L1421.63 1328.22 L1412.15 1327.52 L1402.74 1326.78 L1393.46 1325.99 L1384.34 1325.15 L1375.4 1324.27 L1366.65 1323.33 L1358.11 1322.34 L1349.76 1321.3 L1341.59 1320.19 L1333.59 1319.02 L1325.74 1317.79 L1318.01 1316.48 L1310.37 1315.1 L1302.79 1313.63 L1295.25 1312.08 L1287.72 1310.43 L1280.16 1308.68 L1272.54 1306.83 L1264.85 1304.87 L1257.05 1302.8 L1249.13 1300.62 L1241.08 1298.33 L1232.88 1295.93 L1224.52 1293.41 L1215.99 1290.79 L1207.26 1288.04 L1198.35 1285.19 L1189.23 1282.22 L1179.91 1279.13 L1170.4 1275.94 L1160.69 1272.65 L1150.79 1269.26 L1140.72 1265.77 L1130.48 1262.2 L1120.09 1258.55 L1109.56 1254.84 L1098.92 1251.06 L1088.19 1247.24 L1077.38 1243.38 L1066.53 1239.5 L1055.65 1235.61 L1044.77 1231.72 L1033.92 1227.84 L1023.11 1223.98 L1012.38 1220.16 L1001.74 1216.38 L991.21 1212.67 L980.82 1209.02 L970.58 1205.45 L960.51 1201.96 L950.61 1198.57 L940.9 1195.28 L931.39 1192.09 L922.07 1189 L912.95 1186.03 L904.04 1183.18 L895.31 1180.43 L886.78 1177.81 L878.42 1175.29 L870.22 1172.89 L862.17 1170.6 L854.25 1168.42 L846.45 1166.35 L838.76 1164.39 L831.14 1162.54 L823.58 1160.79 L816.05 1159.14 L808.51 1157.59 L800.93 1156.12 L793.29 1154.74 L785.56 1153.43 L777.71 1152.2 L769.71 1151.03 L761.54 1149.92 L753.19 1148.88 L744.65 1147.89 L735.9 1146.95 L726.96 1146.07 L717.84 1145.23 L708.56 1144.44 L699.15 1143.7 L689.67 1143 L680.17 1142.35 L670.74 1141.75 L661.45 1141.2 L652.4 1140.69 L643.69 1140.24 L635.44 1139.83 L627.73 1139.47 L620.67 1139.17 L614.33 1138.9 L608.77 1138.69 L604.04 1138.51 L600.14 1138.37 L597.05 1138.27 L594.73 1138.2 L593.11 1138.15 L592.09 1138.12 L591.54 1138.1 L591.33 1138.1 L591.3 1138.1Z" fill="#EE5859" fill-opacity="0.8" stroke="#EE5859" stroke-opacity="0.8" stroke-width="4.44" stroke-linejoin="round"/>
<path d="M591.3 1138.1 L591.33 1138.1 L591.54 1138.08 L592.09 1138.03 L593.11 1137.94 L594.73 1137.79 L597.05 1137.56 L600.14 1137.24 L604.04 1136.81 L608.77 1136.26 L614.33 1135.58 L620.67 1134.76 L627.73 1133.8 L635.44 1132.68 L643.69 1131.41 L652.4 1129.98 L661.45 1128.41 L670.74 1126.68 L680.17 1124.8 L689.67 1122.77 L699.15 1120.6 L708.56 1118.28 L717.84 1115.81 L726.96 1113.19 L735.9 1110.43 L744.65 1107.5 L753.19 1104.41 L761.54 1101.14 L769.71 1097.69 L777.71 1094.04 L785.56 1090.18 L793.29 1086.1 L800.93 1081.77 L808.51 1077.19 L816.05 1072.33 L823.58 1067.17 L831.14 1061.71 L838.76 1055.93 L846.45 1049.8 L854.25 1043.34 L862.17 1036.52 L870.22 1029.37 L878.42 1021.87 L886.78 1014.01 L895.31 1005.8 L904.04 997.23 L912.95 988.3 L922.07 979.02 L931.39 969.38 L940.9 959.41 L950.61 949.12 L960.51 938.51 L970.58 927.62 L980.82 916.46 L991.21 905.06 L1001.74 893.45 L1012.38 881.66 L1023.11 869.72 L1033.92 857.67 L1044.77 845.54 L1055.65 833.37 L1066.53 821.21 L1077.38 809.08 L1088.19 797.03 L1098.92 785.09 L1109.56 773.29 L1120.09 761.68 L1130.48 750.28 L1140.72 739.12 L1150.79 728.23 L1160.69 717.63 L1170.4 707.33 L1179.91 697.36 L1189.23 687.73 L1198.35 678.45 L1207.26 669.52 L1215.99 660.94 L1224.52 652.73 L1232.88 644.88 L1241.08 637.38 L1249.13 630.22 L1257.05 623.41 L1264.85 616.94 L1272.54 610.82 L1280.16 605.03 L1287.72 599.57 L1295.25 594.42 L1302.79 589.56 L1310.37 584.98 L1318.01 580.65 L1325.74 576.57 L1333.59 572.71 L1341.59 569.06 L1349.76 565.61 L1358.11 562.34 L1366.65 559.25 L1375.4 556.32 L1384.34 553.55 L1393.46 550.94 L1402.74 548.47 L1412.15 546.15 L1421.63 543.98 L1431.13 541.95 L1440.56 540.07 L1449.85 538.34 L1458.9 536.76 L1467.61 535.34 L1475.86 534.07 L1483.57 532.95 L1490.63 531.98 L1496.97 531.16 L1502.53 530.49 L1507.26 529.94 L1511.16 529.51 L1514.25 529.19 L1516.57 528.96 L1518.19 528.81 L1519.21 528.71 L1519.76 528.67 L1519.97 528.65 L1520 528.65 L1520 528.65 L1519.97 528.65 L1519.76 528.67 L1519.21 528.71 L1518.19 528.81 L1516.57 528.96 L1514.25 529.19 L1511.16 529.51 L1507.26 529.94 L1502.53 530.49 L1496.97 531.16 L1490.63 531.98 L1483.57 532.95 L1475.86 534.07 L1467.61 535.34 L1458.9 536.76 L1449.85 538.34 L1440.56 540.07 L1431.13 541.95 L1421.63 543.98 L1412.15 546.15 L1402.74 548.47 L1393.46 550.94 L1384.34 553.55 L1375.4 556.32 L1366.65 559.25 L1358.11 562.34 L1349.76 565.61 L1341.59 569.06 L1333.59 572.71 L1325.74 576.57 L1318.01 580.65 L1310.37 584.98 L1302.79 589.56 L1295.25 594.42 L1287.72 599.57 L1280.16 605.03 L1272.54 610.82 L1264.85 616.94 L1257.05 623.41 L1249.13 630.22 L1241.08 637.38 L1232.88 644.88 L1224.52 652.73 L1215.99 660.94 L1207.26 669.52 L1198.35 678.45 L1189.23 687.73 L1179.91 697.36 L1170.4 707.33 L1160.69 717.63 L1150.79 728.23 L1140.72 739.12 L1130.48 750.28 L1120.09 761.68 L1109.56 773.29 L1098.92 785.09 L1088.19 797.03 L1077.38 809.08 L1066.53 821.21 L1055.65 833.37 L1044.77 845.54 L1033.92 857.67 L1023.11 869.72 L1012.38 881.66 L1001.74 893.45 L991.21 905.06 L980.82 916.46 L970.58 927.62 L960.51 938.51 L950.61 949.12 L940.9 959.41 L931.39 969.38 L922.07 979.02 L912.95 988.3 L904.04 997.23 L895.31 1005.8 L886.78 1014.01 L878.42 1021.87 L870.22 1029.37 L862.17 1036.52 L854.25 1043.34 L846.45 1049.8 L838.76 1055.93 L831.14 1061.71 L823.58 1067.17 L816.05 1072.33 L808.51 1077.19 L800.93 1081.77 L793.29 1086.1 L785.56 1090.18 L777.71 1094.04 L769.71 1097.69 L761.54 1101.14 L753.19 1104.41 L744.65 1107.5 L735.9 1110.43 L726.96 1113.19 L717.84 1115.81 L708.56 1118.28 L699.15 1120.6 L689.67 1122.77 L680.17 1124.8 L670.74 1126.68 L661.45 1128.41 L652.4 1129.98 L643.69 1131.41 L635.44 1132.68 L627.73 1133.8 L620.67 1134.76 L614.33 1135.58 L608.77 1136.26 L604.04 1136.81 L600.14 1137.24 L597.05 1137.56 L594.73 1137.79 L593.11 1137.94 L592.09 1138.03 L591.54 1138.08 L591.33 1138.1 L591.3 1138.1Z" fill="#C5C7CA" fill-opacity="0.8" stroke="#C5C7CA" stroke-opacity="0.8" stroke-width="4.44" stroke-linejoin="round"/>
<path d="M591.3 1138.1 L591.33 1138.1 L591.54 1138.09 L592.09 1138.07 L593.11 1138.03 L594.73 1137.97 L597.05 1137.87 L600.14 1137.74 L604.04 1137.56 L608.77 1137.33 L614.33 1137.04 L620.67 1136.7 L627.73 1136.29 L635.44 1135.82 L643.69 1135.29 L652.4 1134.69 L661.45 1134.03 L670.74 1133.3 L680.17 1132.51 L689.67 1131.66 L699.15 1130.75 L708.56 1129.77 L717.84 1128.74 L726.96 1127.64 L735.9 1126.48 L744.65 1125.25 L753.19 1123.95 L761.54 1122.58 L769.71 1121.13 L777.71 1119.59 L785.56 1117.97 L793.29 1116.26 L800.93 1114.44 L808.51 1112.52 L816.05 1110.47 L823.58 1108.31 L831.14 1106.02 L838.76 1103.59 L846.45 1101.01 L854.25 1098.3 L862.17 1095.44 L870.22 1092.43 L878.42 1089.28 L886.78 1085.98 L895.31 1082.53 L904.04 1078.93 L912.95 1075.18 L922.07 1071.28 L931.39 1067.24 L940.9 1063.05 L950.61 1058.73 L960.51 1054.27 L970.58 1049.7 L980.82 1045.01 L991.21 1040.22 L1001.74 1035.35 L1012.38 1030.39 L1023.11 1025.38 L1033.92 1020.32 L1044.77 1015.22 L1055.65 1010.11 L1066.53 1005 L1077.38 999.91 L1088.19 994.85 L1098.92 989.83 L1109.56 984.88 L1120.09 980 L1130.48 975.22 L1140.72 970.53 L1150.79 965.95 L1160.69 961.5 L1170.4 957.18 L1179.91 952.99 L1189.23 948.94 L1198.35 945.04 L1207.26 941.29 L1215.99 937.69 L1224.52 934.24 L1232.88 930.95 L1241.08 927.8 L1249.13 924.79 L1257.05 921.93 L1264.85 919.21 L1272.54 916.64 L1280.16 914.21 L1287.72 911.92 L1295.25 909.75 L1302.79 907.71 L1310.37 905.79 L1318.01 903.97 L1325.74 902.25 L1333.59 900.63 L1341.59 899.1 L1349.76 897.65 L1358.11 896.28 L1366.65 894.98 L1375.4 893.75 L1384.34 892.59 L1393.46 891.49 L1402.74 890.45 L1412.15 889.48 L1421.63 888.57 L1431.13 887.72 L1440.56 886.93 L1449.85 886.2 L1458.9 885.54 L1467.61 884.94 L1475.86 884.4 L1483.57 883.94 L1490.63 883.53 L1496.97 883.19 L1502.53 882.9 L1507.26 882.67 L1511.16 882.49 L1514.25 882.36 L1516.57 882.26 L1518.19 882.2 L1519.21 882.16 L1519.76 882.14 L1519.97 882.13 L1520 882.13 L1520 918.7 L1519.97 918.7 L1519.76 918.7 L1519.21 918.72 L1518.19 918.76 L1516.57 918.83 L1514.25 918.92 L1511.16 919.06 L1507.26 919.24 L1502.53 919.47 L1496.97 919.75 L1490.63 920.1 L1483.57 920.5 L1475.86 920.97 L1467.61 921.51 L1458.9 922.1 L1449.85 922.77 L1440.56 923.49 L1431.13 924.28 L1421.63 925.13 L1412.15 926.05 L1402.74 927.02 L1393.46 928.06 L1384.34 929.16 L1375.4 930.32 L1366.65 931.55 L1358.11 932.85 L1349.76 934.22 L1341.59 935.67 L1333.59 937.2 L1325.74 938.82 L1318.01 940.54 L1310.37 942.35 L1302.79 944.28 L1295.25 946.32 L1287.72 948.48 L1280.16 950.78 L1272.54 953.21 L1264.85 955.78 L1257.05 958.5 L1249.13 961.36 L1241.08 964.36 L1232.88 967.51 L1224.52 970.81 L1215.99 974.26 L1207.26 977.86 L1198.35 981.61 L1189.23 985.51 L1179.91 989.56 L1170.4 993.74 L1160.69 998.07 L1150.79 1002.52 L1140.72 1007.1 L1130.48 1011.78 L1120.09 1016.57 L1109.56 1021.45 L1098.92 1026.4 L1088.19 1031.42 L1077.38 1036.48 L1066.53 1041.57 L1055.65 1046.68 L1044.77 1051.79 L1033.92 1056.88 L1023.11 1061.95 L1012.38 1066.96 L1001.74 1071.91 L991.21 1076.79 L980.82 1081.58 L970.58 1086.26 L960.51 1090.84 L950.61 1095.29 L940.9 1099.62 L931.39 1103.8 L922.07 1107.85 L912.95 1111.75 L904.04 1115.5 L895.31 1119.1 L886.78 1122.55 L878.42 1125.85 L870.22 1129 L862.17 1132 L854.25 1134.86 L846.45 1137.58 L838.76 1140.15 L831.14 1142.58 L823.58 1144.88 L816.05 1147.04 L808.51 1149.08 L800.93 1151.01 L793.29 1152.82 L785.56 1154.54 L777.71 1156.16 L769.71 1157.69 L761.54 1159.14 L753.19 1160.51 L744.65 1161.81 L735.9 1163.04 L726.96 1164.21 L717.84 1165.3 L708.56 1166.34 L699.15 1167.31 L689.67 1168.23 L680.17 1169.08 L670.74 1169.87 L661.45 1170.59 L652.4 1171.26 L643.69 1171.86 L635.44 1172.39 L627.73 1172.86 L620.67 1173.26 L614.33 1173.61 L608.77 1173.89 L604.04 1174.12 L600.14 1174.3 L597.05 1174.44 L594.73 1174.53 L593.11 1174.6 L592.09 1174.64 L591.54 1174.66 L591.33 1174.66 L591.3 1174.66Z" fill="#C5C7CA" fill-opacity="0.8" stroke="#C5C7CA" stroke-opacity="0.8" stroke-width="4.44" stroke-linejoin="round"/>
<path d="M591.3 1174.66 L591.33 1174.66 L591.54 1174.66 L592.09 1174.66 L593.11 1174.66 L594.73 1174.65 L597.05 1174.63 L600.14 1174.61 L604.04 1174.59 L608.77 1174.55 L614.33 1174.51 L620.67 1174.46 L627.73 1174.41 L635.44 1174.34 L643.69 1174.26 L652.4 1174.18 L661.45 1174.08 L670.74 1173.98 L680.17 1173.87 L689.67 1173.75 L699.15 1173.61 L708.56 1173.48 L717.84 1173.33 L726.96 1173.17 L735.9 1173 L744.65 1172.83 L753.19 1172.64 L761.54 1172.45 L769.71 1172.24 L777.71 1172.02 L785.56 1171.79 L793.29 1171.54 L800.93 1171.29 L808.51 1171.01 L816.05 1170.72 L823.58 1170.41 L831.14 1170.08 L838.76 1169.73 L846.45 1169.37 L854.25 1168.98 L862.17 1168.57 L870.22 1168.14 L878.42 1167.69 L886.78 1167.22 L895.31 1166.73 L904.04 1166.21 L912.95 1165.68 L922.07 1165.12 L931.39 1164.54 L940.9 1163.94 L950.61 1163.33 L960.51 1162.69 L970.58 1162.04 L980.82 1161.37 L991.21 1160.68 L1001.74 1159.99 L1012.38 1159.28 L1023.11 1158.56 L1033.92 1157.84 L1044.77 1157.11 L1055.65 1156.38 L1066.53 1155.65 L1077.38 1154.92 L1088.19 1154.2 L1098.92 1153.48 L1109.56 1152.78 L1120.09 1152.08 L1130.48 1151.4 L1140.72 1150.73 L1150.79 1150.07 L1160.69 1149.44 L1170.4 1148.82 L1179.91 1148.22 L1189.23 1147.64 L1198.35 1147.09 L1207.26 1146.55 L1215.99 1146.04 L1224.52 1145.54 L1232.88 1145.07 L1241.08 1144.62 L1249.13 1144.19 L1257.05 1143.78 L1264.85 1143.4 L1272.54 1143.03 L1280.16 1142.68 L1287.72 1142.35 L1295.25 1142.04 L1302.79 1141.75 L1310.37 1141.48 L1318.01 1141.22 L1325.74 1140.97 L1333.59 1140.74 L1341.59 1140.52 L1349.76 1140.32 L1358.11 1140.12 L1366.65 1139.93 L1375.4 1139.76 L1384.34 1139.59 L1393.46 1139.44 L1402.74 1139.29 L1412.15 1139.15 L1421.63 1139.02 L1431.13 1138.9 L1440.56 1138.78 L1449.85 1138.68 L1458.9 1138.58 L1467.61 1138.5 L1475.86 1138.42 L1483.57 1138.36 L1490.63 1138.3 L1496.97 1138.25 L1502.53 1138.21 L1507.26 1138.18 L1511.16 1138.15 L1514.25 1138.13 L1516.57 1138.12 L1518.19 1138.11 L1519.21 1138.1 L1519.76 1138.1 L1519.97 1138.1 L1520 1138.1 L1520 1284.37 L1519.97 1284.37 L1519.76 1284.37 L1519.21 1284.37 L1518.19 1284.38 L1516.57 1284.38 L1514.25 1284.4 L1511.16 1284.42 L1507.26 1284.44 L1502.53 1284.48 L1496.97 1284.52 L1490.63 1284.57 L1483.57 1284.62 L1475.86 1284.69 L1467.61 1284.77 L1458.9 1284.85 L1449.85 1284.95 L1440.56 1285.05 L1431.13 1285.16 L1421.63 1285.29 L1412.15 1285.42 L1402.74 1285.56 L1393.46 1285.7 L1384.34 1285.86 L1375.4 1286.03 L1366.65 1286.2 L1358.11 1286.39 L1349.76 1286.58 L1341.59 1286.79 L1333.59 1287.01 L1325.74 1287.24 L1318.01 1287.49 L1310.37 1287.75 L1302.79 1288.02 L1295.25 1288.31 L1287.72 1288.62 L1280.16 1288.95 L1272.54 1289.3 L1264.85 1289.66 L1257.05 1290.05 L1249.13 1290.46 L1241.08 1290.89 L1232.88 1291.34 L1224.52 1291.81 L1215.99 1292.3 L1207.26 1292.82 L1198.35 1293.35 L1189.23 1293.91 L1179.91 1294.49 L1170.4 1295.09 L1160.69 1295.7 L1150.79 1296.34 L1140.72 1296.99 L1130.48 1297.66 L1120.09 1298.35 L1109.56 1299.04 L1098.92 1299.75 L1088.19 1300.47 L1077.38 1301.19 L1066.53 1301.92 L1055.65 1302.65 L1044.77 1303.38 L1033.92 1304.11 L1023.11 1304.83 L1012.38 1305.55 L1001.74 1306.25 L991.21 1306.95 L980.82 1307.63 L970.58 1308.3 L960.51 1308.96 L950.61 1309.59 L940.9 1310.21 L931.39 1310.81 L922.07 1311.39 L912.95 1311.95 L904.04 1312.48 L895.31 1313 L886.78 1313.49 L878.42 1313.96 L870.22 1314.41 L862.17 1314.84 L854.25 1315.25 L846.45 1315.64 L838.76 1316 L831.14 1316.35 L823.58 1316.68 L816.05 1316.99 L808.51 1317.28 L800.93 1317.55 L793.29 1317.81 L785.56 1318.06 L777.71 1318.29 L769.71 1318.51 L761.54 1318.72 L753.19 1318.91 L744.65 1319.1 L735.9 1319.27 L726.96 1319.44 L717.84 1319.6 L708.56 1319.74 L699.15 1319.88 L689.67 1320.01 L680.17 1320.13 L670.74 1320.25 L661.45 1320.35 L652.4 1320.45 L643.69 1320.53 L635.44 1320.61 L627.73 1320.67 L620.67 1320.73 L614.33 1320.78 L608.77 1320.82 L604.04 1320.86 L600.14 1320.88 L597.05 1320.9 L594.73 1320.91 L593.11 1320.92 L592.09 1320.93 L591.54 1320.93 L591.33 1320.93 L591.3 1320.93Z" fill="#C5C7CA" fill-opacity="0.8" stroke="#C5C7CA" stroke-opacity="0.8" stroke-width="4.44" stroke-linejoin="round"/>
<path d="M591.3 1320.93 L591.33 1320.93 L591.54 1320.93 L592.09 1320.93 L593.11 1320.94 L594.73 1320.94 L597.05 1320.94 L600.14 1320.95 L604.04 1320.96 L608.77 1320.97 L614.33 1320.98 L620.67 1321 L627.73 1321.02 L635.44 1321.04 L643.69 1321.07 L652.4 1321.1 L661.45 1321.13 L670.74 1321.16 L680.17 1321.2 L689.67 1321.24 L699.15 1321.28 L708.56 1321.33 L717.84 1321.38 L726.96 1321.43 L735.9 1321.49 L744.65 1321.54 L753.19 1321.61 L761.54 1321.67 L769.71 1321.74 L777.71 1321.81 L785.56 1321.89 L793.29 1321.97 L800.93 1322.06 L808.51 1322.15 L816.05 1322.25 L823.58 1322.35 L831.14 1322.46 L838.76 1322.58 L846.45 1322.7 L854.25 1322.83 L862.17 1322.96 L870.22 1323.11 L878.42 1323.26 L886.78 1323.41 L895.31 1323.58 L904.04 1323.75 L912.95 1323.93 L922.07 1324.11 L931.39 1324.31 L940.9 1324.51 L950.61 1324.71 L960.51 1324.92 L970.58 1325.14 L980.82 1325.37 L991.21 1325.59 L1001.74 1325.83 L1012.38 1326.06 L1023.11 1326.3 L1033.92 1326.54 L1044.77 1326.78 L1055.65 1327.03 L1066.53 1327.27 L1077.38 1327.51 L1088.19 1327.75 L1098.92 1327.99 L1109.56 1328.23 L1120.09 1328.46 L1130.48 1328.69 L1140.72 1328.91 L1150.79 1329.13 L1160.69 1329.34 L1170.4 1329.55 L1179.91 1329.75 L1189.23 1329.94 L1198.35 1330.13 L1207.26 1330.3 L1215.99 1330.48 L1224.52 1330.64 L1232.88 1330.8 L1241.08 1330.95 L1249.13 1331.09 L1257.05 1331.23 L1264.85 1331.36 L1272.54 1331.48 L1280.16 1331.59 L1287.72 1331.7 L1295.25 1331.81 L1302.79 1331.9 L1310.37 1332 L1318.01 1332.08 L1325.74 1332.16 L1333.59 1332.24 L1341.59 1332.31 L1349.76 1332.38 L1358.11 1332.45 L1366.65 1332.51 L1375.4 1332.57 L1384.34 1332.62 L1393.46 1332.68 L1402.74 1332.73 L1412.15 1332.77 L1421.63 1332.82 L1431.13 1332.86 L1440.56 1332.89 L1449.85 1332.93 L1458.9 1332.96 L1467.61 1332.99 L1475.86 1333.01 L1483.57 1333.04 L1490.63 1333.06 L1496.97 1333.07 L1502.53 1333.09 L1507.26 1333.1 L1511.16 1333.1 L1514.25 1333.11 L1516.57 1333.12 L1518.19 1333.12 L1519.21 1333.12 L1519.76 1333.12 L1519.97 1333.12 L1520 1333.12 L1520 1345.31 L1519.97 1345.31 L1519.76 1345.31 L1519.21 1345.31 L1518.19 1345.31 L1516.57 1345.3 L1514.25 1345.3 L1511.16 1345.29 L1507.26 1345.29 L1502.53 1345.27 L1496.97 1345.26 L1490.63 1345.24 L1483.57 1345.22 L1475.86 1345.2 L1467.61 1345.18 L1458.9 1345.15 L1449.85 1345.12 L1440.56 1345.08 L1431.13 1345.04 L1421.63 1345 L1412.15 1344.96 L1402.74 1344.91 L1393.46 1344.87 L1384.34 1344.81 L1375.4 1344.76 L1366.65 1344.7 L1358.11 1344.64 L1349.76 1344.57 L1341.59 1344.5 L1333.59 1344.43 L1325.74 1344.35 L1318.01 1344.27 L1310.37 1344.18 L1302.79 1344.09 L1295.25 1344 L1287.72 1343.89 L1280.16 1343.78 L1272.54 1343.67 L1264.85 1343.55 L1257.05 1343.42 L1249.13 1343.28 L1241.08 1343.14 L1232.88 1342.99 L1224.52 1342.83 L1215.99 1342.67 L1207.26 1342.49 L1198.35 1342.32 L1189.23 1342.13 L1179.91 1341.94 L1170.4 1341.74 L1160.69 1341.53 L1150.79 1341.32 L1140.72 1341.1 L1130.48 1340.88 L1120.09 1340.65 L1109.56 1340.42 L1098.92 1340.18 L1088.19 1339.94 L1077.38 1339.7 L1066.53 1339.46 L1055.65 1339.22 L1044.77 1338.97 L1033.92 1338.73 L1023.11 1338.49 L1012.38 1338.25 L1001.74 1338.01 L991.21 1337.78 L980.82 1337.55 L970.58 1337.33 L960.51 1337.11 L950.61 1336.9 L940.9 1336.7 L931.39 1336.5 L922.07 1336.3 L912.95 1336.12 L904.04 1335.94 L895.31 1335.77 L886.78 1335.6 L878.42 1335.45 L870.22 1335.3 L862.17 1335.15 L854.25 1335.02 L846.45 1334.89 L838.76 1334.77 L831.14 1334.65 L823.58 1334.54 L816.05 1334.44 L808.51 1334.34 L800.93 1334.25 L793.29 1334.16 L785.56 1334.08 L777.71 1334 L769.71 1333.93 L761.54 1333.86 L753.19 1333.8 L744.65 1333.73 L735.9 1333.68 L726.96 1333.62 L717.84 1333.57 L708.56 1333.52 L699.15 1333.47 L689.67 1333.43 L680.17 1333.39 L670.74 1333.35 L661.45 1333.32 L652.4 1333.28 L643.69 1333.26 L635.44 1333.23 L627.73 1333.21 L620.67 1333.19 L614.33 1333.17 L608.77 1333.16 L604.04 1333.15 L600.14 1333.14 L597.05 1333.13 L594.73 1333.13 L593.11 1333.13 L592.09 1333.12 L591.54 1333.12 L591.33 1333.12 L591.3 1333.12Z" fill="#C5C7CA" fill-opacity="0.8" stroke="#C5C7CA" stroke-opacity="0.8" stroke-width="4.44" stroke-linejoin="round"/>
<path d="M591.3 1333.12 L591.33 1333.12 L591.54 1333.1 L592.09 1333.04 L593.11 1332.91 L594.73 1332.71 L597.05 1332.41 L600.14 1331.99 L604.04 1331.42 L608.77 1330.7 L614.33 1329.8 L620.67 1328.72 L627.73 1327.44 L635.44 1325.97 L643.69 1324.29 L652.4 1322.41 L661.45 1320.33 L670.74 1318.05 L680.17 1315.57 L689.67 1312.89 L699.15 1310.02 L708.56 1306.96 L717.84 1303.7 L726.96 1300.25 L735.9 1296.59 L744.65 1292.73 L753.19 1288.65 L761.54 1284.34 L769.71 1279.78 L777.71 1274.96 L785.56 1269.87 L793.29 1264.48 L800.93 1258.77 L808.51 1252.72 L816.05 1246.3 L823.58 1239.5 L831.14 1232.29 L838.76 1224.65 L846.45 1216.57 L854.25 1208.04 L862.17 1199.04 L870.22 1189.6 L878.42 1179.7 L886.78 1169.33 L895.31 1158.49 L904.04 1147.18 L912.95 1135.39 L922.07 1123.13 L931.39 1110.42 L940.9 1097.26 L950.61 1083.67 L960.51 1069.67 L970.58 1055.29 L980.82 1040.56 L991.21 1025.52 L1001.74 1010.19 L1012.38 994.62 L1023.11 978.86 L1033.92 962.95 L1044.77 946.94 L1055.65 930.88 L1066.53 914.83 L1077.38 898.82 L1088.19 882.91 L1098.92 867.15 L1109.56 851.58 L1120.09 836.25 L1130.48 821.21 L1140.72 806.48 L1150.79 792.1 L1160.69 778.1 L1170.4 764.51 L1179.91 751.35 L1189.23 738.64 L1198.35 726.38 L1207.26 714.59 L1215.99 703.28 L1224.52 692.44 L1232.88 682.07 L1241.08 672.17 L1249.13 662.73 L1257.05 653.73 L1264.85 645.2 L1272.54 637.12 L1280.16 629.48 L1287.72 622.27 L1295.25 615.47 L1302.79 609.05 L1310.37 603 L1318.01 597.29 L1325.74 591.9 L1333.59 586.81 L1341.59 581.99 L1349.76 577.43 L1358.11 573.12 L1366.65 569.04 L1375.4 565.18 L1384.34 561.52 L1393.46 558.07 L1402.74 554.81 L1412.15 551.75 L1421.63 548.88 L1431.13 546.2 L1440.56 543.72 L1449.85 541.44 L1458.9 539.36 L1467.61 537.48 L1475.86 535.8 L1483.57 534.33 L1490.63 533.05 L1496.97 531.97 L1502.53 531.07 L1507.26 530.35 L1511.16 529.78 L1514.25 529.36 L1516.57 529.06 L1518.19 528.86 L1519.21 528.73 L1519.76 528.67 L1519.97 528.65 L1520 528.65 L1520 528.65 L1519.97 528.65 L1519.76 528.67 L1519.21 528.73 L1518.19 528.86 L1516.57 529.06 L1514.25 529.36 L1511.16 529.78 L1507.26 530.35 L1502.53 531.07 L1496.97 531.97 L1490.63 533.05 L1483.57 534.33 L1475.86 535.8 L1467.61 537.48 L1458.9 539.36 L1449.85 541.44 L1440.56 543.72 L1431.13 546.2 L1421.63 548.88 L1412.15 551.75 L1402.74 554.81 L1393.46 558.07 L1384.34 561.52 L1375.4 565.18 L1366.65 569.04 L1358.11 573.12 L1349.76 577.43 L1341.59 581.99 L1333.59 586.81 L1325.74 591.9 L1318.01 597.29 L1310.37 603 L1302.79 609.05 L1295.25 615.47 L1287.72 622.27 L1280.16 629.48 L1272.54 637.12 L1264.85 645.2 L1257.05 653.73 L1249.13 662.73 L1241.08 672.17 L1232.88 682.07 L1224.52 692.44 L1215.99 703.28 L1207.26 714.59 L1198.35 726.38 L1189.23 738.64 L1179.91 751.35 L1170.4 764.51 L1160.69 778.1 L1150.79 792.1 L1140.72 806.48 L1130.48 821.21 L1120.09 836.25 L1109.56 851.58 L1098.92 867.15 L1088.19 882.91 L1077.38 898.82 L1066.53 914.83 L1055.65 930.89 L1044.77 946.94 L1033.92 962.95 L1023.11 978.86 L1012.38 994.62 L1001.74 1010.19 L991.21 1025.52 L980.82 1040.56 L970.58 1055.29 L960.51 1069.67 L950.61 1083.67 L940.9 1097.26 L931.39 1110.42 L922.07 1123.13 L912.95 1135.39 L904.04 1147.18 L895.31 1158.49 L886.78 1169.33 L878.42 1179.7 L870.22 1189.6 L862.17 1199.04 L854.25 1208.04 L846.45 1216.57 L838.76 1224.65 L831.14 1232.29 L823.58 1239.5 L816.05 1246.3 L808.51 1252.72 L800.93 1258.77 L793.29 1264.48 L785.56 1269.87 L777.71 1274.96 L769.71 1279.78 L761.54 1284.34 L753.19 1288.65 L744.65 1292.73 L735.9 1296.59 L726.96 1300.25 L717.84 1303.7 L708.56 1306.96 L699.15 1310.02 L689.67 1312.89 L680.17 1315.57 L670.74 1318.05 L661.45 1320.33 L652.4 1322.41 L643.69 1324.29 L635.44 1325.97 L627.73 1327.44 L620.67 1328.72 L614.33 1329.8 L608.77 1330.7 L604.04 1331.42 L600.14 1331.99 L597.05 1332.41 L594.73 1332.71 L593.11 1332.91 L592.09 1333.04 L591.54 1333.1 L591.33 1333.12 L591.3 1333.12Z" fill="#D2CBB8" fill-opacity="0.8" stroke="#D2CBB8" stroke-opacity="0.8" stroke-width="4.44" stroke-linejoin="round"/>
<path d="M591.3 1333.12 L591.33 1333.12 L591.54 1333.11 L592.09 1333.08 L593.11 1333.01 L594.73 1332.91 L597.05 1332.76 L600.14 1332.54 L604.04 1332.24 L608.77 1331.87 L614.33 1331.41 L620.67 1330.85 L627.73 1330.2 L635.44 1329.44 L643.69 1328.57 L652.4 1327.6 L661.45 1326.53 L670.74 1325.36 L680.17 1324.08 L689.67 1322.7 L699.15 1321.22 L708.56 1319.64 L717.84 1317.97 L726.96 1316.19 L735.9 1314.3 L744.65 1312.31 L753.19 1310.21 L761.54 1307.99 L769.71 1305.64 L777.71 1303.16 L785.56 1300.54 L793.29 1297.76 L800.93 1294.82 L808.51 1291.7 L816.05 1288.4 L823.58 1284.89 L831.14 1281.18 L838.76 1277.24 L846.45 1273.08 L854.25 1268.68 L862.17 1264.05 L870.22 1259.19 L878.42 1254.09 L886.78 1248.74 L895.31 1243.16 L904.04 1237.33 L912.95 1231.26 L922.07 1224.95 L931.39 1218.4 L940.9 1211.62 L950.61 1204.62 L960.51 1197.4 L970.58 1190 L980.82 1182.41 L991.21 1174.66 L1001.74 1166.76 L1012.38 1158.74 L1023.11 1150.62 L1033.92 1142.43 L1044.77 1134.18 L1055.65 1125.91 L1066.53 1117.64 L1077.38 1109.39 L1088.19 1101.19 L1098.92 1093.07 L1109.56 1085.06 L1120.09 1077.16 L1130.48 1069.41 L1140.72 1061.82 L1150.79 1054.41 L1160.69 1047.2 L1170.4 1040.2 L1179.91 1033.42 L1189.23 1026.87 L1198.35 1020.56 L1207.26 1014.49 L1215.99 1008.66 L1224.52 1003.07 L1232.88 997.73 L1241.08 992.63 L1249.13 987.77 L1257.05 983.13 L1264.85 978.74 L1272.54 974.57 L1280.16 970.64 L1287.72 966.92 L1295.25 963.42 L1302.79 960.12 L1310.37 957 L1318.01 954.06 L1325.74 951.28 L1333.59 948.66 L1341.59 946.18 L1349.76 943.83 L1358.11 941.61 L1366.65 939.5 L1375.4 937.51 L1384.34 935.63 L1393.46 933.85 L1402.74 932.17 L1412.15 930.6 L1421.63 929.12 L1431.13 927.74 L1440.56 926.46 L1449.85 925.29 L1458.9 924.21 L1467.61 923.24 L1475.86 922.38 L1483.57 921.62 L1490.63 920.96 L1496.97 920.41 L1502.53 919.95 L1507.26 919.57 L1511.16 919.28 L1514.25 919.06 L1516.57 918.91 L1518.19 918.8 L1519.21 918.74 L1519.76 918.71 L1519.97 918.7 L1520 918.7 L1520 918.7 L1519.97 918.7 L1519.76 918.71 L1519.21 918.74 L1518.19 918.8 L1516.57 918.91 L1514.25 919.06 L1511.16 919.28 L1507.26 919.57 L1502.53 919.95 L1496.97 920.41 L1490.63 920.96 L1483.57 921.62 L1475.86 922.38 L1467.61 923.24 L1458.9 924.21 L1449.85 925.29 L1440.56 926.46 L1431.13 927.74 L1421.63 929.12 L1412.15 930.6 L1402.74 932.17 L1393.46 933.85 L1384.34 935.63 L1375.4 937.51 L1366.65 939.5 L1358.11 941.61 L1349.76 943.83 L1341.59 946.18 L1333.59 948.66 L1325.74 951.28 L1318.01 954.06 L1310.37 957 L1302.79 960.12 L1295.25 963.42 L1287.72 966.92 L1280.16 970.64 L1272.54 974.57 L1264.85 978.74 L1257.05 983.13 L1249.13 987.77 L1241.08 992.63 L1232.88 997.73 L1224.52 1003.07 L1215.99 1008.66 L1207.26 1014.49 L1198.35 1020.56 L1189.23 1026.87 L1179.91 1033.42 L1170.4 1040.2 L1160.69 1047.2 L1150.79 1054.41 L1140.72 1061.82 L1130.48 1069.41 L1120.09 1077.16 L1109.56 1085.06 L1098.92 1093.07 L1088.19 1101.19 L1077.38 1109.39 L1066.53 1117.64 L1055.65 1125.91 L1044.77 1134.18 L1033.92 1142.43 L1023.11 1150.62 L1012.38 1158.74 L1001.74 1166.76 L991.21 1174.66 L980.82 1182.41 L970.58 1190 L960.51 1197.4 L950.61 1204.62 L940.9 1211.62 L931.39 1218.4 L922.07 1224.95 L912.95 1231.26 L904.04 1237.33 L895.31 1243.16 L886.78 1248.74 L878.42 1254.09 L870.22 1259.19 L862.17 1264.05 L854.25 1268.68 L846.45 1273.08 L838.76 1277.24 L831.14 1281.18 L823.58 1284.89 L816.05 1288.4 L808.51 1291.7 L800.93 1294.82 L793.29 1297.76 L785.56 1300.54 L777.71 1303.16 L769.71 1305.64 L761.54 1307.99 L753.19 1310.21 L744.65 1312.31 L735.9 1314.3 L726.96 1316.19 L717.84 1317.97 L708.56 1319.64 L699.15 1321.22 L689.67 1322.7 L680.17 1324.08 L670.74 1325.36 L661.45 1326.53 L652.4 1327.6 L643.69 1328.57 L635.44 1329.44 L627.73 1330.2 L620.67 1330.85 L614.33 1331.41 L608.77 1331.87 L604.04 1332.24 L600.14 1332.54 L597.05 1332.76 L594.73 1332.91 L593.11 1333.01 L592.09 1333.08 L591.54 1333.11 L591.33 1333.12 L591.3 1333.12Z" fill="#D2CBB8" fill-opacity="0.8" stroke="#D2CBB8" stroke-opacity="0.8" stroke-width="4.44" stroke-linejoin="round"/>
<path d="M591.3 1333.12 L591.33 1333.12 L591.54 1333.12 L592.09 1333.12 L593.11 1333.11 L594.73 1333.1 L597.05 1333.08 L600.14 1333.05 L604.04 1333.02 L608.77 1332.97 L614.33 1332.92 L620.67 1332.86 L627.73 1332.78 L635.44 1332.69 L643.69 1332.59 L652.4 1332.47 L661.45 1332.35 L670.74 1332.21 L680.17 1332.06 L689.67 1331.9 L699.15 1331.72 L708.56 1331.54 L717.84 1331.34 L726.96 1331.13 L735.9 1330.91 L744.65 1330.67 L753.19 1330.43 L761.54 1330.17 L769.71 1329.89 L777.71 1329.6 L785.56 1329.29 L793.29 1328.96 L800.93 1328.62 L808.51 1328.25 L816.05 1327.86 L823.58 1327.45 L831.14 1327.01 L838.76 1326.55 L846.45 1326.06 L854.25 1325.54 L862.17 1325 L870.22 1324.42 L878.42 1323.82 L886.78 1323.2 L895.31 1322.54 L904.04 1321.85 L912.95 1321.14 L922.07 1320.4 L931.39 1319.62 L940.9 1318.83 L950.61 1318 L960.51 1317.16 L970.58 1316.28 L980.82 1315.39 L991.21 1314.48 L1001.74 1313.55 L1012.38 1312.61 L1023.11 1311.65 L1033.92 1310.69 L1044.77 1309.72 L1055.65 1308.74 L1066.53 1307.77 L1077.38 1306.8 L1088.19 1305.84 L1098.92 1304.88 L1109.56 1303.94 L1120.09 1303.01 L1130.48 1302.1 L1140.72 1301.2 L1150.79 1300.33 L1160.69 1299.48 L1170.4 1298.66 L1179.91 1297.86 L1189.23 1297.09 L1198.35 1296.35 L1207.26 1295.64 L1215.99 1294.95 L1224.52 1294.29 L1232.88 1293.66 L1241.08 1293.06 L1249.13 1292.49 L1257.05 1291.95 L1264.85 1291.43 L1272.54 1290.94 L1280.16 1290.48 L1287.72 1290.04 L1295.25 1289.63 L1302.79 1289.24 L1310.37 1288.87 L1318.01 1288.53 L1325.74 1288.2 L1333.59 1287.89 L1341.59 1287.6 L1349.76 1287.32 L1358.11 1287.06 L1366.65 1286.81 L1375.4 1286.58 L1384.34 1286.36 L1393.46 1286.15 L1402.74 1285.95 L1412.15 1285.77 L1421.63 1285.59 L1431.13 1285.43 L1440.56 1285.28 L1449.85 1285.14 L1458.9 1285.02 L1467.61 1284.9 L1475.86 1284.8 L1483.57 1284.71 L1490.63 1284.63 L1496.97 1284.57 L1502.53 1284.51 L1507.26 1284.47 L1511.16 1284.43 L1514.25 1284.41 L1516.57 1284.39 L1518.19 1284.38 L1519.21 1284.37 L1519.76 1284.37 L1519.97 1284.37 L1520 1284.37 L1520 1296.56 L1519.97 1296.56 L1519.76 1296.56 L1519.21 1296.56 L1518.19 1296.57 L1516.57 1296.58 L1514.25 1296.6 L1511.16 1296.62 L1507.26 1296.66 L1502.53 1296.7 L1496.97 1296.76 L1490.63 1296.82 L1483.57 1296.9 L1475.86 1296.99 L1467.61 1297.09 L1458.9 1297.2 L1449.85 1297.33 L1440.56 1297.47 L1431.13 1297.62 L1421.63 1297.78 L1412.15 1297.96 L1402.74 1298.14 L1393.46 1298.34 L1384.34 1298.55 L1375.4 1298.77 L1366.65 1299 L1358.11 1299.25 L1349.76 1299.51 L1341.59 1299.79 L1333.59 1300.08 L1325.74 1300.39 L1318.01 1300.72 L1310.37 1301.06 L1302.79 1301.43 L1295.25 1301.82 L1287.72 1302.23 L1280.16 1302.67 L1272.54 1303.13 L1264.85 1303.62 L1257.05 1304.14 L1249.13 1304.68 L1241.08 1305.25 L1232.88 1305.85 L1224.52 1306.48 L1215.99 1307.14 L1207.26 1307.82 L1198.35 1308.54 L1189.23 1309.28 L1179.91 1310.05 L1170.4 1310.85 L1160.69 1311.67 L1150.79 1312.52 L1140.72 1313.39 L1130.48 1314.29 L1120.09 1315.2 L1109.56 1316.13 L1098.92 1317.07 L1088.19 1318.03 L1077.38 1318.99 L1066.53 1319.96 L1055.65 1320.93 L1044.77 1321.91 L1033.92 1322.88 L1023.11 1323.84 L1012.38 1324.8 L1001.74 1325.74 L991.21 1326.67 L980.82 1327.58 L970.58 1328.47 L960.51 1329.34 L950.61 1330.19 L940.9 1331.02 L931.39 1331.81 L922.07 1332.58 L912.95 1333.33 L904.04 1334.04 L895.31 1334.73 L886.78 1335.38 L878.42 1336.01 L870.22 1336.61 L862.17 1337.19 L854.25 1337.73 L846.45 1338.25 L838.76 1338.74 L831.14 1339.2 L823.58 1339.64 L816.05 1340.05 L808.51 1340.44 L800.93 1340.8 L793.29 1341.15 L785.56 1341.48 L777.71 1341.79 L769.71 1342.08 L761.54 1342.35 L753.19 1342.62 L744.65 1342.86 L735.9 1343.1 L726.96 1343.32 L717.84 1343.53 L708.56 1343.73 L699.15 1343.91 L689.67 1344.08 L680.17 1344.25 L670.74 1344.4 L661.45 1344.54 L652.4 1344.66 L643.69 1344.78 L635.44 1344.88 L627.73 1344.97 L620.67 1345.04 L614.33 1345.11 L608.77 1345.16 L604.04 1345.21 L600.14 1345.24 L597.05 1345.27 L594.73 1345.29 L593.11 1345.3 L592.09 1345.31 L591.54 1345.31 L591.33 1345.31 L591.3 1345.31Z" fill="#D2CBB8" fill-opacity="0.8" stroke="#D2CBB8" stroke-opacity="0.8" stroke-width="4.44" stroke-linejoin="round"/>
<path d="M591.3 1345.31 L591.33 1345.31 L591.54 1345.31 L592.09 1345.31 L593.11 1345.31 L594.73 1345.31 L597.05 1345.31 L600.14 1345.31 L604.04 1345.31 L608.77 1345.31 L614.33 1345.31 L620.67 1345.31 L627.73 1345.31 L635.44 1345.31 L643.69 1345.31 L652.4 1345.31 L661.45 1345.31 L670.74 1345.31 L680.17 1345.31 L689.67 1345.31 L699.15 1345.31 L708.56 1345.31 L717.84 1345.31 L726.96 1345.31 L735.9 1345.31 L744.65 1345.31 L753.19 1345.31 L761.54 1345.31 L769.71 1345.31 L777.71 1345.31 L785.56 1345.31 L793.29 1345.31 L800.93 1345.31 L808.51 1345.31 L816.05 1345.31 L823.58 1345.31 L831.14 1345.31 L838.76 1345.31 L846.45 1345.31 L854.25 1345.31 L862.17 1345.31 L870.22 1345.31 L878.42 1345.31 L886.78 1345.31 L895.31 1345.31 L904.04 1345.31 L912.95 1345.31 L922.07 1345.31 L931.39 1345.31 L940.9 1345.31 L950.61 1345.31 L960.51 1345.31 L970.58 1345.31 L980.82 1345.31 L991.21 1345.31 L1001.74 1345.31 L1012.38 1345.31 L1023.11 1345.31 L1033.92 1345.31 L1044.77 1345.31 L1055.65 1345.31 L1066.53 1345.31 L1077.38 1345.31 L1088.19 1345.31 L1098.92 1345.31 L1109.56 1345.31 L1120.09 1345.31 L1130.48 1345.31 L1140.72 1345.31 L1150.79 1345.31 L1160.69 1345.31 L1170.4 1345.31 L1179.91 1345.31 L1189.23 1345.31 L1198.35 1345.31 L1207.26 1345.31 L1215.99 1345.31 L1224.52 1345.31 L1232.88 1345.31 L1241.08 1345.31 L1249.13 1345.31 L1257.05 1345.31 L1264.85 1345.31 L1272.54 1345.31 L1280.16 1345.31 L1287.72 1345.31 L1295.25 1345.31 L1302.79 1345.31 L1310.37 1345.31 L1318.01 1345.31 L1325.74 1345.31 L1333.59 1345.31 L1341.59 1345.31 L1349.76 1345.31 L1358.11 1345.31 L1366.65 1345.31 L1375.4 1345.31 L1384.34 1345.31 L1393.46 1345.31 L1402.74 1345.31 L1412.15 1345.31 L1421.63 1345.31 L1431.13 1345.31 L1440.56 1345.31 L1449.85 1345.31 L1458.9 1345.31 L1467.61 1345.31 L1475.86 1345.31 L1483.57 1345.31 L1490.63 1345.31 L1496.97 1345.31 L1502.53 1345.31 L1507.26 1345.31 L1511.16 1345.31 L1514.25 1345.31 L1516.57 1345.31 L1518.19 1345.31 L1519.21 1345.31 L1519.76 1345.31 L1519.97 1345.31 L1520 1345.31 L1520 1357.5 L1519.97 1357.5 L1519.76 1357.5 L1519.21 1357.5 L1518.19 1357.5 L1516.57 1357.5 L1514.25 1357.5 L1511.16 1357.5 L1507.26 1357.5 L1502.53 1357.5 L1496.97 1357.5 L1490.63 1357.5 L1483.57 1357.5 L1475.86 1357.5 L1467.61 1357.5 L1458.9 1357.5 L1449.85 1357.5 L1440.56 1357.5 L1431.13 1357.5 L1421.63 1357.5 L1412.15 1357.5 L1402.74 1357.5 L1393.46 1357.5 L1384.34 1357.5 L1375.4 1357.5 L1366.65 1357.5 L1358.11 1357.5 L1349.76 1357.5 L1341.59 1357.5 L1333.59 1357.5 L1325.74 1357.5 L1318.01 1357.5 L1310.37 1357.5 L1302.79 1357.5 L1295.25 1357.5 L1287.72 1357.5 L1280.16 1357.5 L1272.54 1357.5 L1264.85 1357.5 L1257.05 1357.5 L1249.13 1357.5 L1241.08 1357.5 L1232.88 1357.5 L1224.52 1357.5 L1215.99 1357.5 L1207.26 1357.5 L1198.35 1357.5 L1189.23 1357.5 L1179.91 1357.5 L1170.4 1357.5 L1160.69 1357.5 L1150.79 1357.5 L1140.72 1357.5 L1130.48 1357.5 L1120.09 1357.5 L1109.56 1357.5 L1098.92 1357.5 L1088.19 1357.5 L1077.38 1357.5 L1066.53 1357.5 L1055.65 1357.5 L1044.77 1357.5 L1033.92 1357.5 L1023.11 1357.5 L1012.38 1357.5 L1001.74 1357.5 L991.21 1357.5 L980.82 1357.5 L970.58 1357.5 L960.51 1357.5 L950.61 1357.5 L940.9 1357.5 L931.39 1357.5 L922.07 1357.5 L912.95 1357.5 L904.04 1357.5 L895.31 1357.5 L886.78 1357.5 L878.42 1357.5 L870.22 1357.5 L862.17 1357.5 L854.25 1357.5 L846.45 1357.5 L838.76 1357.5 L831.14 1357.5 L823.58 1357.5 L816.05 1357.5 L808.51 1357.5 L800.93 1357.5 L793.29 1357.5 L785.56 1357.5 L777.71 1357.5 L769.71 1357.5 L761.54 1357.5 L753.19 1357.5 L744.65 1357.5 L735.9 1357.5 L726.96 1357.5 L717.84 1357.5 L708.56 1357.5 L699.15 1357.5 L689.67 1357.5 L680.17 1357.5 L670.74 1357.5 L661.45 1357.5 L652.4 1357.5 L643.69 1357.5 L635.44 1357.5 L627.73 1357.5 L620.67 1357.5 L614.33 1357.5 L608.77 1357.5 L604.04 1357.5 L600.14 1357.5 L597.05 1357.5 L594.73 1357.5 L593.11 1357.5 L592.09 1357.5 L591.54 1357.5 L591.33 1357.5 L591.3 1357.5Z" fill="#D2CBB8" fill-opacity="0.8" stroke="#D2CBB8" stroke-opacity="0.8" stroke-width="4.44" stroke-linejoin="round"/>
</g>
<g>
<rect x="127" y="138.6" width="464.3" height="572.88" fill="#fff" stroke="#58585A" stroke-width="4.44" stroke-linejoin="round"/>
<rect x="127" y="711.48" width="464.3" height="426.62" fill="#fff" stroke="#58585A" stroke-width="4.44" stroke-linejoin="round"/>
<rect x="127" y="1138.1" width="464.3" height="195.02" fill="#fff" stroke="#58585A" stroke-width="4.44" stroke-linejoin="round"/>
<rect x="127" y="1333.12" width="464.3" height="24.38" fill="#fff" stroke="#58585A" stroke-width="4.44" stroke-linejoin="round"/>
<rect x="1520" y="138.6" width="464.4" height="390.05" fill="#fff" stroke="#58585A" stroke-width="4.44" stroke-linejoin="round"/>
<rect x="1520" y="528.65" width="464.4" height="390.05" fill="#fff" stroke="#58585A" stroke-width="4.44" stroke-linejoin="round"/>
<rect x="1520" y="918.7" width="464.4" height="377.86" fill="#fff" stroke="#58585A" stroke-width="4.44" stroke-linejoin="round"/>
<rect x="1520" y="1296.56" width="464.4" height="60.95" fill="#fff" stroke="#58585A" stroke-width="4.44" stroke-linejoin="round"/>
</g>
<g font-family="Liberation Sans, sans-serif" font-size="46.3" fill="#58585A">
<text transform="translate(359.15 442.04) scale(1 1.05)" text-anchor="middle">Displaced</text>
<text transform="translate(359.15 941.79) scale(1 1.05)" text-anchor="middle">Non displaced</text>
<text transform="translate(359.15 1252.61) scale(1 1.05)" text-anchor="middle">Returnee</text>
<text transform="translate(359.15 1362.31) scale(1 1.05)" text-anchor="middle">Dnk/Pnts</text>
<text transform="translate(1752.2 350.62) scale(1 1.05)" text-anchor="middle">Displaced</text>
<text transform="translate(1752.2 740.67) scale(1 1.05)" text-anchor="middle">Non displaced</text>
<text transform="translate(1752.2 1124.63) scale(1 1.05)" text-anchor="middle">Returnee</text>
<text transform="translate(1752.2 1344.03) scale(1 1.05)" text-anchor="middle">Dnk/Pnts</text>
</g>
<g font-family="Liberation Sans, sans-serif" font-size="42.5" fill="#58585A" text-anchor="middle">
<text x="81.2" y="1472.6" textLength="61.2" lengthAdjust="spacingAndGlyphs">0.8</text>
<text x="637" y="1472.6" textLength="53.5" lengthAdjust="spacingAndGlyphs">1.2</text>
<text x="1194" y="1472.6" textLength="55.7" lengthAdjust="spacingAndGlyphs">1.6</text>
<text x="1750.8" y="1472.6" textLength="59.6" lengthAdjust="spacingAndGlyphs">2.0</text>
</g>
</svg>
</body></html>
